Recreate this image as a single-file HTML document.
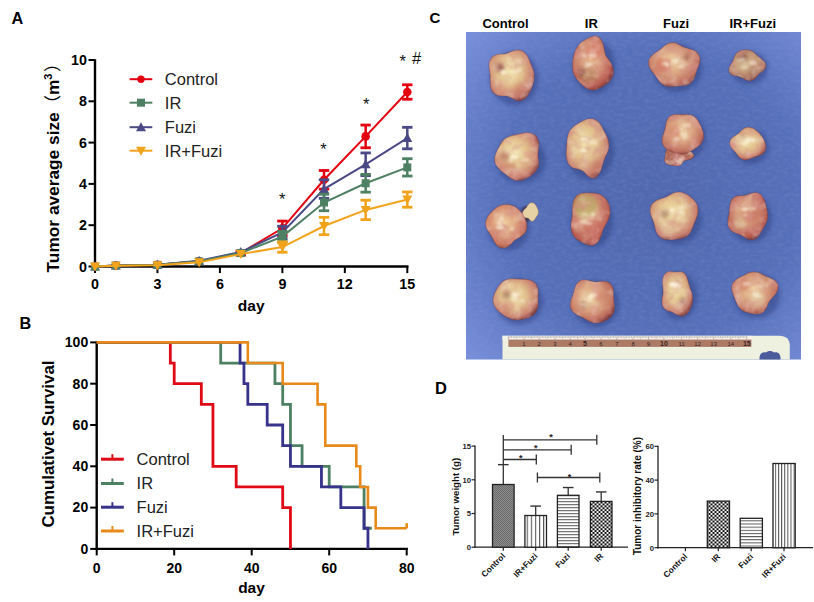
<!DOCTYPE html>
<html><head><meta charset="utf-8"><title>Figure</title>
<style>html,body{margin:0;padding:0;background:#fff;} svg{display:block;}</style></head>
<body><svg width="814" height="602" viewBox="0 0 814 602" font-family="'Liberation Sans','Noto Sans CJK SC',Arial,sans-serif">
<rect width="814" height="602" fill="#fff"/>
<defs>
<radialGradient id="tg0" cx="0.45" cy="0.42" r="0.62"><stop offset="0" stop-color="#f1e4ae"/><stop offset="0.45" stop-color="#e2c08c"/><stop offset="0.82" stop-color="#c98270"/><stop offset="1" stop-color="#803e40"/></radialGradient>
<radialGradient id="tg1" cx="0.45" cy="0.42" r="0.62"><stop offset="0" stop-color="#e8c896"/><stop offset="0.45" stop-color="#d49478"/><stop offset="0.82" stop-color="#b85c50"/><stop offset="1" stop-color="#703438"/></radialGradient>
<radialGradient id="tg2" cx="0.45" cy="0.42" r="0.62"><stop offset="0" stop-color="#eed6a4"/><stop offset="0.45" stop-color="#dba682"/><stop offset="0.82" stop-color="#c0705e"/><stop offset="1" stop-color="#7c3a3c"/></radialGradient>
<radialGradient id="tg3" cx="0.45" cy="0.42" r="0.62"><stop offset="0" stop-color="#d9c49a"/><stop offset="0.45" stop-color="#c9a27e"/><stop offset="0.82" stop-color="#a8705e"/><stop offset="1" stop-color="#6e3a3e"/></radialGradient>
<radialGradient id="tg4" cx="0.45" cy="0.42" r="0.62"><stop offset="0" stop-color="#f1e4ae"/><stop offset="0.45" stop-color="#e2c08c"/><stop offset="0.82" stop-color="#c98270"/><stop offset="1" stop-color="#803e40"/></radialGradient>
<radialGradient id="tg5" cx="0.45" cy="0.42" r="0.62"><stop offset="0" stop-color="#f1e4ae"/><stop offset="0.45" stop-color="#e2c08c"/><stop offset="0.82" stop-color="#c98270"/><stop offset="1" stop-color="#803e40"/></radialGradient>
<radialGradient id="tg6" cx="0.45" cy="0.42" r="0.62"><stop offset="0" stop-color="#eed6a4"/><stop offset="0.45" stop-color="#dba682"/><stop offset="0.82" stop-color="#c0705e"/><stop offset="1" stop-color="#7c3a3c"/></radialGradient>
<radialGradient id="tg7" cx="0.45" cy="0.42" r="0.62"><stop offset="0" stop-color="#f1e4ae"/><stop offset="0.45" stop-color="#e2c08c"/><stop offset="0.82" stop-color="#c98270"/><stop offset="1" stop-color="#803e40"/></radialGradient>
<radialGradient id="tg8" cx="0.45" cy="0.42" r="0.62"><stop offset="0" stop-color="#efd0a0"/><stop offset="0.45" stop-color="#dea07c"/><stop offset="0.82" stop-color="#c7735c"/><stop offset="1" stop-color="#7e3a38"/></radialGradient>
<radialGradient id="tg9" cx="0.45" cy="0.42" r="0.62"><stop offset="0" stop-color="#e8c896"/><stop offset="0.45" stop-color="#d49478"/><stop offset="0.82" stop-color="#b85c50"/><stop offset="1" stop-color="#703438"/></radialGradient>
<radialGradient id="tg10" cx="0.45" cy="0.42" r="0.62"><stop offset="0" stop-color="#f1e4ae"/><stop offset="0.45" stop-color="#e2c08c"/><stop offset="0.82" stop-color="#c98270"/><stop offset="1" stop-color="#803e40"/></radialGradient>
<radialGradient id="tg11" cx="0.45" cy="0.42" r="0.62"><stop offset="0" stop-color="#e8c896"/><stop offset="0.45" stop-color="#d49478"/><stop offset="0.82" stop-color="#b85c50"/><stop offset="1" stop-color="#703438"/></radialGradient>
<radialGradient id="tg12" cx="0.45" cy="0.42" r="0.62"><stop offset="0" stop-color="#f1e4ae"/><stop offset="0.45" stop-color="#e2c08c"/><stop offset="0.82" stop-color="#c98270"/><stop offset="1" stop-color="#803e40"/></radialGradient>
<radialGradient id="tg13" cx="0.45" cy="0.42" r="0.62"><stop offset="0" stop-color="#eed6a4"/><stop offset="0.45" stop-color="#dba682"/><stop offset="0.82" stop-color="#c0705e"/><stop offset="1" stop-color="#7c3a3c"/></radialGradient>
<radialGradient id="tg14" cx="0.45" cy="0.42" r="0.62"><stop offset="0" stop-color="#f1e4ae"/><stop offset="0.45" stop-color="#e2c08c"/><stop offset="0.82" stop-color="#c98270"/><stop offset="1" stop-color="#803e40"/></radialGradient>
<radialGradient id="tg15" cx="0.45" cy="0.42" r="0.62"><stop offset="0" stop-color="#eed6a4"/><stop offset="0.45" stop-color="#dba682"/><stop offset="0.82" stop-color="#c0705e"/><stop offset="1" stop-color="#7c3a3c"/></radialGradient>
<radialGradient id="bluebg" cx="0.55" cy="0.5" r="0.75">
 <stop offset="0" stop-color="#5068ae"/>
 <stop offset="0.6" stop-color="#5670ba"/>
 <stop offset="1" stop-color="#7a90dc"/>
</radialGradient>
<radialGradient id="t1" cx="0.45" cy="0.4" r="0.6">
 <stop offset="0" stop-color="#e8d8a8"/>
 <stop offset="0.5" stop-color="#ddb98f"/>
 <stop offset="0.85" stop-color="#c98a78"/>
 <stop offset="1" stop-color="#9a5a5a"/>
</radialGradient>
<radialGradient id="t2" cx="0.45" cy="0.4" r="0.6">
 <stop offset="0" stop-color="#e2c79a"/>
 <stop offset="0.5" stop-color="#d8a684"/>
 <stop offset="0.85" stop-color="#c27a6c"/>
 <stop offset="1" stop-color="#8e4c50"/>
</radialGradient>
<radialGradient id="t3" cx="0.45" cy="0.4" r="0.6">
 <stop offset="0" stop-color="#dcc194"/>
 <stop offset="0.6" stop-color="#c99a7a"/>
 <stop offset="1" stop-color="#8a4e4e"/>
</radialGradient>
<filter id="blur05" x="-50%" y="-50%" width="200%" height="200%"><feGaussianBlur stdDeviation="0.5"/></filter>
<filter id="mottle1" x="0" y="0" width="1" height="1"><feTurbulence type="fractalNoise" baseFrequency="0.1" numOctaves="3" seed="3"/><feColorMatrix type="matrix" values="0 0 0 0 0.70  0 0 0 0 0.28  0 0 0 0 0.27  2.4 0 0 0 -1.1"/><feComposite in2="SourceAlpha" operator="in"/></filter>
<filter id="mottle2" x="0" y="0" width="1" height="1"><feTurbulence type="fractalNoise" baseFrequency="0.1" numOctaves="3" seed="11"/><feColorMatrix type="matrix" values="0 0 0 0 0.70  0 0 0 0 0.28  0 0 0 0 0.27  2.4 0 0 0 -1.1"/><feComposite in2="SourceAlpha" operator="in"/></filter>
<filter id="mottle3" x="0" y="0" width="1" height="1"><feTurbulence type="fractalNoise" baseFrequency="0.11" numOctaves="3" seed="21"/><feColorMatrix type="matrix" values="0 0 0 0 0.66  0 0 0 0 0.28  0 0 0 0 0.28  2.4 0 0 0 -1.05"/><feComposite in2="SourceAlpha" operator="in"/></filter>
<filter id="cream1" x="0" y="0" width="1" height="1"><feTurbulence type="fractalNoise" baseFrequency="0.09" numOctaves="3" seed="41"/><feColorMatrix type="matrix" values="0 0 0 0 0.96  0 0 0 0 0.93  0 0 0 0 0.78  0 2.6 0 0 -1.2"/><feComposite in2="SourceAlpha" operator="in"/></filter>
<filter id="cloth" x="0" y="0" width="1" height="1"><feTurbulence type="fractalNoise" baseFrequency="0.18 0.3" numOctaves="2" seed="5"/><feColorMatrix type="matrix" values="0 0 0 0 0.26  0 0 0 0 0.34  0 0 0 0 0.66  1.8 0 0 0 -0.7"/></filter>
<filter id="blur1" x="-50%" y="-50%" width="200%" height="200%"><feGaussianBlur stdDeviation="1"/></filter>
<filter id="blur2" x="-50%" y="-50%" width="200%" height="200%"><feGaussianBlur stdDeviation="2"/></filter>
<pattern id="vstripe" patternUnits="userSpaceOnUse" x="526.7" width="4.1" height="10"><rect width="4.1" height="10" fill="#fff"/><rect x="0" width="1.1" height="10" fill="#555"/></pattern>
<pattern id="vstripe2" patternUnits="userSpaceOnUse" x="774.9" width="3.12" height="10"><rect width="3.12" height="10" fill="#fff"/><rect x="0" width="1.0" height="10" fill="#555"/></pattern>
<pattern id="hstripe" patternUnits="userSpaceOnUse" y="0.2" width="10" height="3.0"><rect width="10" height="3" fill="#fff"/><rect y="0" width="10" height="1.0" fill="#555"/></pattern>
<pattern id="hstripe2" patternUnits="userSpaceOnUse" y="0.6" width="10" height="3.15"><rect width="10" height="3.15" fill="#fff"/><rect y="0" width="10" height="1.0" fill="#555"/></pattern>
<pattern id="checker" patternUnits="userSpaceOnUse" x="0.5" y="0" width="4" height="3.8"><rect width="4" height="3.8" fill="#f4f4f4"/><rect width="2" height="1.9" fill="#111"/><rect x="2" y="1.9" width="2" height="1.9" fill="#111"/></pattern>
<pattern id="xhatch" patternUnits="userSpaceOnUse" width="2" height="2"><rect width="2" height="2" fill="#8c8c8c"/><rect width="1" height="1" fill="#6c6c6c"/><rect x="1" y="1" width="1" height="1" fill="#6c6c6c"/></pattern>
</defs>
<text x="11.6" y="23.8" font-size="16.3" font-weight="bold" text-anchor="start" fill="#000" >A</text>
<text x="19.6" y="328.9" font-size="16.3" font-weight="bold" text-anchor="start" fill="#000" >B</text>
<text x="429.5" y="22.6" font-size="15" font-weight="bold" text-anchor="start" fill="#000" >C</text>
<text x="435.0" y="394.0" font-size="16.5" font-weight="bold" text-anchor="start" fill="#000" >D</text>
<line x1="95.00" y1="59.20" x2="95.00" y2="267.70" stroke="#000" stroke-width="2.4" />
<line x1="93.80" y1="266.50" x2="408.50" y2="266.50" stroke="#000" stroke-width="2.4" />
<line x1="88.50" y1="266.50" x2="95.00" y2="266.50" stroke="#000" stroke-width="2" />
<text x="87.0" y="271.5" font-size="14.3" font-weight="bold" text-anchor="end" fill="#000" >0</text>
<line x1="88.50" y1="225.20" x2="95.00" y2="225.20" stroke="#000" stroke-width="2" />
<text x="87.0" y="230.2" font-size="14.3" font-weight="bold" text-anchor="end" fill="#000" >2</text>
<line x1="88.50" y1="183.90" x2="95.00" y2="183.90" stroke="#000" stroke-width="2" />
<text x="87.0" y="188.9" font-size="14.3" font-weight="bold" text-anchor="end" fill="#000" >4</text>
<line x1="88.50" y1="142.60" x2="95.00" y2="142.60" stroke="#000" stroke-width="2" />
<text x="87.0" y="147.6" font-size="14.3" font-weight="bold" text-anchor="end" fill="#000" >6</text>
<line x1="88.50" y1="101.30" x2="95.00" y2="101.30" stroke="#000" stroke-width="2" />
<text x="87.0" y="106.3" font-size="14.3" font-weight="bold" text-anchor="end" fill="#000" >8</text>
<line x1="88.50" y1="60.00" x2="95.00" y2="60.00" stroke="#000" stroke-width="2" />
<text x="87.0" y="65.0" font-size="14.3" font-weight="bold" text-anchor="end" fill="#000" >10</text>
<line x1="95.00" y1="266.50" x2="95.00" y2="273.10" stroke="#000" stroke-width="2" />
<text x="95.0" y="289.2" font-size="14.3" font-weight="bold" text-anchor="middle" fill="#000" >0</text>
<line x1="157.46" y1="266.50" x2="157.46" y2="273.10" stroke="#000" stroke-width="2" />
<text x="157.5" y="289.2" font-size="14.3" font-weight="bold" text-anchor="middle" fill="#000" >3</text>
<line x1="219.92" y1="266.50" x2="219.92" y2="273.10" stroke="#000" stroke-width="2" />
<text x="219.9" y="289.2" font-size="14.3" font-weight="bold" text-anchor="middle" fill="#000" >6</text>
<line x1="282.38" y1="266.50" x2="282.38" y2="273.10" stroke="#000" stroke-width="2" />
<text x="282.4" y="289.2" font-size="14.3" font-weight="bold" text-anchor="middle" fill="#000" >9</text>
<line x1="344.84" y1="266.50" x2="344.84" y2="273.10" stroke="#000" stroke-width="2" />
<text x="344.8" y="289.2" font-size="14.3" font-weight="bold" text-anchor="middle" fill="#000" >12</text>
<line x1="407.30" y1="266.50" x2="407.30" y2="273.10" stroke="#000" stroke-width="2" />
<text x="407.3" y="289.2" font-size="14.3" font-weight="bold" text-anchor="middle" fill="#000" >15</text>
<text x="251.2" y="310.5" font-size="15.5" font-weight="bold" text-anchor="middle" fill="#000" >day</text>
<text transform="translate(58.6,272.4) rotate(-90)" font-size="17.3" font-weight="bold" fill="#000">Tumor average size<tspan font-weight="normal" font-family="'Liberation Sans','Noto Sans CJK SC',sans-serif">（</tspan>m<tspan font-size="11" dy="-7">3</tspan><tspan dy="7" dx="1.5" font-weight="normal" font-family="'Liberation Sans','Noto Sans CJK SC',sans-serif">）</tspan></text>
<polyline points="95.00,266.50 115.82,265.47 157.46,264.85 199.10,261.34 240.74,253.08 282.38,228.30 324.02,179.77 365.66,136.41 407.30,92.01" fill="none" stroke="#e3000f" stroke-width="2"/>
<circle cx="95.00" cy="266.50" r="4.30" fill="#e3000f"/>
<circle cx="115.82" cy="265.47" r="4.30" fill="#e3000f"/>
<circle cx="157.46" cy="264.85" r="4.30" fill="#e3000f"/>
<circle cx="199.10" cy="261.34" r="4.30" fill="#e3000f"/>
<line x1="240.74" y1="251.01" x2="240.74" y2="255.14" stroke="#e3000f" stroke-width="2.5" />
<line x1="235.54" y1="251.01" x2="245.94" y2="251.01" stroke="#e3000f" stroke-width="2.8" />
<line x1="235.54" y1="255.14" x2="245.94" y2="255.14" stroke="#e3000f" stroke-width="2.8" />
<circle cx="240.74" cy="253.08" r="4.30" fill="#e3000f"/>
<line x1="282.38" y1="221.07" x2="282.38" y2="235.53" stroke="#e3000f" stroke-width="2.5" />
<line x1="277.18" y1="221.07" x2="287.58" y2="221.07" stroke="#e3000f" stroke-width="2.8" />
<line x1="277.18" y1="235.53" x2="287.58" y2="235.53" stroke="#e3000f" stroke-width="2.8" />
<circle cx="282.38" cy="228.30" r="4.30" fill="#e3000f"/>
<line x1="324.02" y1="170.48" x2="324.02" y2="189.06" stroke="#e3000f" stroke-width="2.5" />
<line x1="318.82" y1="170.48" x2="329.22" y2="170.48" stroke="#e3000f" stroke-width="2.8" />
<line x1="318.82" y1="189.06" x2="329.22" y2="189.06" stroke="#e3000f" stroke-width="2.8" />
<circle cx="324.02" cy="179.77" r="4.30" fill="#e3000f"/>
<line x1="365.66" y1="125.05" x2="365.66" y2="147.76" stroke="#e3000f" stroke-width="2.5" />
<line x1="360.46" y1="125.05" x2="370.86" y2="125.05" stroke="#e3000f" stroke-width="2.8" />
<line x1="360.46" y1="147.76" x2="370.86" y2="147.76" stroke="#e3000f" stroke-width="2.8" />
<circle cx="365.66" cy="136.41" r="4.30" fill="#e3000f"/>
<line x1="407.30" y1="84.78" x2="407.30" y2="99.24" stroke="#e3000f" stroke-width="2.5" />
<line x1="402.10" y1="84.78" x2="412.50" y2="84.78" stroke="#e3000f" stroke-width="2.8" />
<line x1="402.10" y1="99.24" x2="412.50" y2="99.24" stroke="#e3000f" stroke-width="2.8" />
<circle cx="407.30" cy="92.01" r="4.30" fill="#e3000f"/>
<polyline points="95.00,266.50 115.82,265.47 157.46,264.85 199.10,260.72 240.74,252.05 282.38,232.43 324.02,189.06 365.66,164.28 407.30,138.06" fill="none" stroke="#4b4a86" stroke-width="2"/>
<polygon points="95.00,261.50 100.00,270.50 90.00,270.50" fill="#4b4a86"/>
<polygon points="115.82,260.47 120.82,269.47 110.82,269.47" fill="#4b4a86"/>
<polygon points="157.46,259.85 162.46,268.85 152.46,268.85" fill="#4b4a86"/>
<polygon points="199.10,255.72 204.10,264.72 194.10,264.72" fill="#4b4a86"/>
<polygon points="240.74,247.05 245.74,256.05 235.74,256.05" fill="#4b4a86"/>
<line x1="282.38" y1="226.23" x2="282.38" y2="238.62" stroke="#4b4a86" stroke-width="2.5" />
<line x1="277.18" y1="226.23" x2="287.58" y2="226.23" stroke="#4b4a86" stroke-width="2.8" />
<line x1="277.18" y1="238.62" x2="287.58" y2="238.62" stroke="#4b4a86" stroke-width="2.8" />
<polygon points="282.38,227.43 287.38,236.43 277.38,236.43" fill="#4b4a86"/>
<line x1="324.02" y1="179.77" x2="324.02" y2="198.36" stroke="#4b4a86" stroke-width="2.5" />
<line x1="318.82" y1="179.77" x2="329.22" y2="179.77" stroke="#4b4a86" stroke-width="2.8" />
<line x1="318.82" y1="198.36" x2="329.22" y2="198.36" stroke="#4b4a86" stroke-width="2.8" />
<polygon points="324.02,184.06 329.02,193.06 319.02,193.06" fill="#4b4a86"/>
<line x1="365.66" y1="152.93" x2="365.66" y2="175.64" stroke="#4b4a86" stroke-width="2.5" />
<line x1="360.46" y1="152.93" x2="370.86" y2="152.93" stroke="#4b4a86" stroke-width="2.8" />
<line x1="360.46" y1="175.64" x2="370.86" y2="175.64" stroke="#4b4a86" stroke-width="2.8" />
<polygon points="365.66,159.28 370.66,168.28 360.66,168.28" fill="#4b4a86"/>
<line x1="407.30" y1="127.32" x2="407.30" y2="148.80" stroke="#4b4a86" stroke-width="2.5" />
<line x1="402.10" y1="127.32" x2="412.50" y2="127.32" stroke="#4b4a86" stroke-width="2.8" />
<line x1="402.10" y1="148.80" x2="412.50" y2="148.80" stroke="#4b4a86" stroke-width="2.8" />
<polygon points="407.30,133.06 412.30,142.06 402.30,142.06" fill="#4b4a86"/>
<polyline points="95.00,266.50 115.82,265.47 157.46,264.85 199.10,261.34 240.74,253.08 282.38,236.56 324.02,202.49 365.66,183.28 407.30,167.38" fill="none" stroke="#4e8163" stroke-width="2"/>
<rect x="91.00" y="262.50" width="8.00" height="8.00" fill="#4e8163"/>
<rect x="111.82" y="261.47" width="8.00" height="8.00" fill="#4e8163"/>
<rect x="153.46" y="260.85" width="8.00" height="8.00" fill="#4e8163"/>
<rect x="195.10" y="257.34" width="8.00" height="8.00" fill="#4e8163"/>
<rect x="236.74" y="249.08" width="8.00" height="8.00" fill="#4e8163"/>
<line x1="282.38" y1="231.40" x2="282.38" y2="241.72" stroke="#4e8163" stroke-width="2.5" />
<line x1="277.18" y1="231.40" x2="287.58" y2="231.40" stroke="#4e8163" stroke-width="2.8" />
<line x1="277.18" y1="241.72" x2="287.58" y2="241.72" stroke="#4e8163" stroke-width="2.8" />
<rect x="278.38" y="232.56" width="8.00" height="8.00" fill="#4e8163"/>
<line x1="324.02" y1="194.23" x2="324.02" y2="210.75" stroke="#4e8163" stroke-width="2.5" />
<line x1="318.82" y1="194.23" x2="329.22" y2="194.23" stroke="#4e8163" stroke-width="2.8" />
<line x1="318.82" y1="210.75" x2="329.22" y2="210.75" stroke="#4e8163" stroke-width="2.8" />
<rect x="320.02" y="198.49" width="8.00" height="8.00" fill="#4e8163"/>
<line x1="365.66" y1="174.40" x2="365.66" y2="192.16" stroke="#4e8163" stroke-width="2.5" />
<line x1="360.46" y1="174.40" x2="370.86" y2="174.40" stroke="#4e8163" stroke-width="2.8" />
<line x1="360.46" y1="192.16" x2="370.86" y2="192.16" stroke="#4e8163" stroke-width="2.8" />
<rect x="361.66" y="179.28" width="8.00" height="8.00" fill="#4e8163"/>
<line x1="407.30" y1="158.71" x2="407.30" y2="176.05" stroke="#4e8163" stroke-width="2.5" />
<line x1="402.10" y1="158.71" x2="412.50" y2="158.71" stroke="#4e8163" stroke-width="2.8" />
<line x1="402.10" y1="176.05" x2="412.50" y2="176.05" stroke="#4e8163" stroke-width="2.8" />
<rect x="403.30" y="163.38" width="8.00" height="8.00" fill="#4e8163"/>
<polyline points="95.00,266.50 115.82,265.67 157.46,265.26 199.10,262.37 240.74,254.11 282.38,247.09 324.02,226.03 365.66,209.92 407.30,199.59" fill="none" stroke="#f2a31c" stroke-width="2"/>
<polygon points="95.00,271.50 100.00,262.50 90.00,262.50" fill="#f2a31c"/>
<polygon points="115.82,270.67 120.82,261.67 110.82,261.67" fill="#f2a31c"/>
<polygon points="157.46,270.26 162.46,261.26 152.46,261.26" fill="#f2a31c"/>
<polygon points="199.10,267.37 204.10,258.37 194.10,258.37" fill="#f2a31c"/>
<polygon points="240.74,259.11 245.74,250.11 235.74,250.11" fill="#f2a31c"/>
<line x1="282.38" y1="241.93" x2="282.38" y2="252.25" stroke="#f2a31c" stroke-width="2.5" />
<line x1="277.18" y1="241.93" x2="287.58" y2="241.93" stroke="#f2a31c" stroke-width="2.8" />
<line x1="277.18" y1="252.25" x2="287.58" y2="252.25" stroke="#f2a31c" stroke-width="2.8" />
<polygon points="282.38,252.09 287.38,243.09 277.38,243.09" fill="#f2a31c"/>
<line x1="324.02" y1="217.35" x2="324.02" y2="234.70" stroke="#f2a31c" stroke-width="2.5" />
<line x1="318.82" y1="217.35" x2="329.22" y2="217.35" stroke="#f2a31c" stroke-width="2.8" />
<line x1="318.82" y1="234.70" x2="329.22" y2="234.70" stroke="#f2a31c" stroke-width="2.8" />
<polygon points="324.02,231.03 329.02,222.03 319.02,222.03" fill="#f2a31c"/>
<line x1="365.66" y1="200.21" x2="365.66" y2="219.62" stroke="#f2a31c" stroke-width="2.5" />
<line x1="360.46" y1="200.21" x2="370.86" y2="200.21" stroke="#f2a31c" stroke-width="2.8" />
<line x1="360.46" y1="219.62" x2="370.86" y2="219.62" stroke="#f2a31c" stroke-width="2.8" />
<polygon points="365.66,214.92 370.66,205.92 360.66,205.92" fill="#f2a31c"/>
<line x1="407.30" y1="191.95" x2="407.30" y2="207.23" stroke="#f2a31c" stroke-width="2.5" />
<line x1="402.10" y1="191.95" x2="412.50" y2="191.95" stroke="#f2a31c" stroke-width="2.8" />
<line x1="402.10" y1="207.23" x2="412.50" y2="207.23" stroke="#f2a31c" stroke-width="2.8" />
<polygon points="407.30,204.59 412.30,195.59 402.30,195.59" fill="#f2a31c"/>
<line x1="129.60" y1="79.20" x2="152.30" y2="79.20" stroke="#e3000f" stroke-width="2" />
<circle cx="141.00" cy="79.20" r="3.7" fill="#e3000f"/>
<text x="164.8" y="85.0" font-size="16.5" font-weight="normal" text-anchor="start" fill="#222" >Control</text>
<line x1="129.60" y1="102.70" x2="152.30" y2="102.70" stroke="#4e8163" stroke-width="2" />
<rect x="137.00" y="98.70" width="8.00" height="8.00" fill="#4e8163"/>
<text x="164.8" y="108.5" font-size="16.5" font-weight="normal" text-anchor="start" fill="#222" >IR</text>
<line x1="129.60" y1="127.20" x2="152.30" y2="127.20" stroke="#4b4a86" stroke-width="2" />
<polygon points="141.00,122.20 146.00,131.20 136.00,131.20" fill="#4b4a86"/>
<text x="164.8" y="133.0" font-size="16.5" font-weight="normal" text-anchor="start" fill="#222" >Fuzi</text>
<line x1="129.60" y1="150.70" x2="152.30" y2="150.70" stroke="#f2a31c" stroke-width="2" />
<polygon points="141.00,155.70 146.00,146.70 136.00,146.70" fill="#f2a31c"/>
<text x="164.8" y="156.5" font-size="16.5" font-weight="normal" text-anchor="start" fill="#222" >IR+Fuzi</text>
<text x="282.3" y="204.8" font-size="16.5" font-weight="normal" text-anchor="middle" fill="#111" >*</text>
<text x="323.5" y="154.5" font-size="16.5" font-weight="normal" text-anchor="middle" fill="#111" >*</text>
<text x="366.2" y="109.5" font-size="16.5" font-weight="normal" text-anchor="middle" fill="#111" >*</text>
<text x="402.8" y="67.1" font-size="16.5" font-weight="normal" text-anchor="middle" fill="#111" >*</text>
<text x="416.7" y="63.6" font-size="16.5" font-weight="normal" text-anchor="middle" fill="#111" >#</text>
<line x1="96.70" y1="341.60" x2="96.70" y2="550.10" stroke="#000" stroke-width="2.4" />
<line x1="95.50" y1="548.90" x2="407.90" y2="548.90" stroke="#000" stroke-width="2.4" />
<line x1="90.20" y1="548.90" x2="96.70" y2="548.90" stroke="#000" stroke-width="2" />
<text x="88.2" y="553.7" font-size="14" font-weight="bold" text-anchor="end" fill="#000" >0</text>
<line x1="90.20" y1="507.60" x2="96.70" y2="507.60" stroke="#000" stroke-width="2" />
<text x="88.2" y="512.4" font-size="14" font-weight="bold" text-anchor="end" fill="#000" >20</text>
<line x1="90.20" y1="466.30" x2="96.70" y2="466.30" stroke="#000" stroke-width="2" />
<text x="88.2" y="471.1" font-size="14" font-weight="bold" text-anchor="end" fill="#000" >40</text>
<line x1="90.20" y1="425.00" x2="96.70" y2="425.00" stroke="#000" stroke-width="2" />
<text x="88.2" y="429.8" font-size="14" font-weight="bold" text-anchor="end" fill="#000" >60</text>
<line x1="90.20" y1="383.70" x2="96.70" y2="383.70" stroke="#000" stroke-width="2" />
<text x="88.2" y="388.5" font-size="14" font-weight="bold" text-anchor="end" fill="#000" >80</text>
<line x1="90.20" y1="342.40" x2="96.70" y2="342.40" stroke="#000" stroke-width="2" />
<text x="88.2" y="347.2" font-size="14" font-weight="bold" text-anchor="end" fill="#000" >100</text>
<line x1="96.70" y1="548.90" x2="96.70" y2="555.40" stroke="#000" stroke-width="2" />
<text x="96.7" y="572.5" font-size="14" font-weight="bold" text-anchor="middle" fill="#000" >0</text>
<line x1="174.20" y1="548.90" x2="174.20" y2="555.40" stroke="#000" stroke-width="2" />
<text x="174.2" y="572.5" font-size="14" font-weight="bold" text-anchor="middle" fill="#000" >20</text>
<line x1="251.70" y1="548.90" x2="251.70" y2="555.40" stroke="#000" stroke-width="2" />
<text x="251.7" y="572.5" font-size="14" font-weight="bold" text-anchor="middle" fill="#000" >40</text>
<line x1="329.20" y1="548.90" x2="329.20" y2="555.40" stroke="#000" stroke-width="2" />
<text x="329.2" y="572.5" font-size="14" font-weight="bold" text-anchor="middle" fill="#000" >60</text>
<line x1="406.70" y1="548.90" x2="406.70" y2="555.40" stroke="#000" stroke-width="2" />
<text x="406.7" y="572.5" font-size="14" font-weight="bold" text-anchor="middle" fill="#000" >80</text>
<text x="251.5" y="592.7" font-size="15.5" font-weight="bold" text-anchor="middle" fill="#000" >day</text>
<text transform="translate(53.6,527.6) rotate(-90)" font-size="16.9" font-weight="bold" fill="#000">Cumulativet Survival</text>
<polyline points="96.70,342.40 170.32,342.40 170.32,363.05 174.20,363.05 174.20,383.70 201.32,383.70 201.32,404.35 212.95,404.35 212.95,466.30 236.20,466.30 236.20,486.95 282.70,486.95 282.70,507.60 290.45,507.60 290.45,548.90 290.45,548.90" fill="none" stroke="#e00a16" stroke-width="2.8" stroke-linejoin="miter"/>
<polyline points="96.70,342.40 220.70,342.40 220.70,363.05 274.95,363.05 274.95,383.70 282.70,383.70 282.70,404.35 290.45,404.35 290.45,445.65 302.07,445.65 302.07,466.30 329.20,466.30 329.20,486.95 364.07,486.95 364.07,528.25 371.82,528.25" fill="none" stroke="#4e8163" stroke-width="2.8" stroke-linejoin="miter"/>
<polyline points="96.70,342.40 240.07,342.40 240.07,363.05 243.95,363.05 243.95,383.70 247.82,383.70 247.82,404.35 267.20,404.35 267.20,425.00 282.70,425.00 282.70,445.65 290.45,445.65 290.45,466.30 321.45,466.30 321.45,486.95 340.82,486.95 340.82,507.60 364.07,507.60 364.07,528.25 367.95,528.25 367.95,548.90 367.95,548.90" fill="none" stroke="#37338a" stroke-width="2.8" stroke-linejoin="miter"/>
<polyline points="96.70,342.40 247.82,342.40 247.82,363.05 282.70,363.05 282.70,383.70 317.57,383.70 317.57,404.35 325.32,404.35 325.32,445.65 356.32,445.65 356.32,466.30 360.20,466.30 360.20,486.95 367.95,486.95 367.95,507.60 375.70,507.60 375.70,528.25 406.70,528.25" fill="none" stroke="#e88a1a" stroke-width="2.6" stroke-linejoin="miter"/>
<line x1="406.70" y1="528.25" x2="406.70" y2="523.25" stroke="#e88a1a" stroke-width="2.6" />
<line x1="101.00" y1="459.20" x2="123.80" y2="459.20" stroke="#e00a16" stroke-width="3" />
<line x1="112.40" y1="459.20" x2="112.40" y2="454.20" stroke="#e00a16" stroke-width="2" />
<text x="136.6" y="464.8" font-size="16.5" font-weight="normal" text-anchor="start" fill="#222" >Control</text>
<line x1="101.00" y1="483.50" x2="123.80" y2="483.50" stroke="#4e8163" stroke-width="3" />
<line x1="112.40" y1="483.50" x2="112.40" y2="478.50" stroke="#4e8163" stroke-width="2" />
<text x="136.6" y="489.1" font-size="16.5" font-weight="normal" text-anchor="start" fill="#222" >IR</text>
<line x1="101.00" y1="507.20" x2="123.80" y2="507.20" stroke="#37338a" stroke-width="3" />
<line x1="112.40" y1="507.20" x2="112.40" y2="502.20" stroke="#37338a" stroke-width="2" />
<text x="136.6" y="512.8" font-size="16.5" font-weight="normal" text-anchor="start" fill="#222" >Fuzi</text>
<line x1="101.00" y1="531.00" x2="123.80" y2="531.00" stroke="#e88a1a" stroke-width="3" />
<line x1="112.40" y1="531.00" x2="112.40" y2="526.00" stroke="#e88a1a" stroke-width="2" />
<text x="136.6" y="536.6" font-size="16.5" font-weight="normal" text-anchor="start" fill="#222" >IR+Fuzi</text>
<text x="505.5" y="27.5" font-size="13" font-weight="bold" text-anchor="middle" fill="#000" >Control</text>
<text x="591.3" y="27.5" font-size="13" font-weight="bold" text-anchor="middle" fill="#000" >IR</text>
<text x="676.0" y="27.5" font-size="13" font-weight="bold" text-anchor="middle" fill="#000" >Fuzi</text>
<text x="752.8" y="27.5" font-size="13" font-weight="bold" text-anchor="middle" fill="#000" >IR+Fuzi</text>
<rect x="466" y="32" width="335" height="327.5" fill="url(#bluebg)"/>
<rect x="466" y="32" width="335" height="327.5" fill="#3a4a90" filter="url(#cloth)" opacity="0.22"/>
<ellipse cx="514.2" cy="78.5" rx="24.5" ry="27.0" fill="#2c3a7a" opacity="0.45" filter="url(#blur2)"/>
<ellipse cx="594.5" cy="66.9" rx="21.2" ry="27.4" fill="#2c3a7a" opacity="0.45" filter="url(#blur2)"/>
<ellipse cx="677.3" cy="68.2" rx="24.9" ry="24.0" fill="#2c3a7a" opacity="0.45" filter="url(#blur2)"/>
<ellipse cx="749.5" cy="68.0" rx="18.5" ry="16.5" fill="#2c3a7a" opacity="0.45" filter="url(#blur2)"/>
<ellipse cx="520.9" cy="159.4" rx="25.0" ry="24.2" fill="#2c3a7a" opacity="0.45" filter="url(#blur2)"/>
<ellipse cx="589.9" cy="151.0" rx="24.1" ry="29.0" fill="#2c3a7a" opacity="0.45" filter="url(#blur2)"/>
<ellipse cx="685.0" cy="137.0" rx="21.1" ry="22.5" fill="#2c3a7a" opacity="0.45" filter="url(#blur2)"/>
<ellipse cx="750.8" cy="147.0" rx="18.1" ry="17.2" fill="#2c3a7a" opacity="0.45" filter="url(#blur2)"/>
<ellipse cx="508.5" cy="228.0" rx="21.0" ry="22.1" fill="#2c3a7a" opacity="0.45" filter="url(#blur2)"/>
<ellipse cx="592.0" cy="220.5" rx="21.0" ry="27.5" fill="#2c3a7a" opacity="0.45" filter="url(#blur2)"/>
<ellipse cx="676.9" cy="219.0" rx="24.5" ry="25.5" fill="#2c3a7a" opacity="0.45" filter="url(#blur2)"/>
<ellipse cx="750.5" cy="218.5" rx="21.5" ry="24.5" fill="#2c3a7a" opacity="0.45" filter="url(#blur2)"/>
<ellipse cx="519.3" cy="301.8" rx="23.9" ry="23.1" fill="#2c3a7a" opacity="0.45" filter="url(#blur2)"/>
<ellipse cx="595.9" cy="303.9" rx="23.5" ry="23.5" fill="#2c3a7a" opacity="0.45" filter="url(#blur2)"/>
<ellipse cx="679.3" cy="296.2" rx="17.9" ry="23.9" fill="#2c3a7a" opacity="0.45" filter="url(#blur2)"/>
<ellipse cx="756.5" cy="295.8" rx="23.5" ry="22.8" fill="#2c3a7a" opacity="0.45" filter="url(#blur2)"/>
<path d="M693.9,155.5 C693.9,156.4 693.1,157.6 692.1,158.3 C691.2,159.0 689.4,159.5 688.2,159.8 C687.0,160.2 685.7,160.2 684.9,160.4 C684.1,160.7 683.7,161.0 683.3,161.6 C682.8,162.1 682.6,162.9 682.1,163.6 C681.6,164.2 680.9,164.9 680.2,165.3 C679.4,165.7 678.4,165.8 677.5,165.9 C676.6,165.9 675.7,165.6 674.8,165.5 C673.9,165.4 673.0,165.3 672.0,165.2 C671.0,165.0 669.8,165.0 668.8,164.7 C667.8,164.4 666.7,163.9 666.0,163.2 C665.3,162.6 664.8,161.6 664.6,160.7 C664.5,159.8 664.7,158.8 664.9,157.9 C665.0,157.1 665.3,156.3 665.4,155.5 C665.5,154.7 665.5,154.0 665.6,153.2 C665.7,152.4 665.7,151.6 666.0,150.9 C666.4,150.2 667.1,149.5 667.9,149.0 C668.6,148.6 669.7,148.4 670.6,148.2 C671.5,148.0 672.3,148.1 673.1,147.8 C673.8,147.5 674.3,147.1 675.1,146.6 C675.8,146.1 676.6,145.2 677.5,144.7 C678.4,144.3 679.7,143.9 680.6,144.0 C681.6,144.0 682.7,144.6 683.4,145.3 C684.1,145.9 684.4,147.0 684.8,147.8 C685.3,148.5 685.4,149.2 686.1,149.8 C686.7,150.3 687.7,150.5 688.7,151.0 C689.7,151.5 691.3,151.9 692.1,152.7 C693.0,153.4 693.9,154.6 693.9,155.5Z" fill="#b06858" stroke="#6a3030" stroke-width="1" stroke-opacity="0.5"/>
<path d="M693.9,155.5 C693.9,156.4 693.1,157.6 692.1,158.3 C691.2,159.0 689.4,159.5 688.2,159.8 C687.0,160.2 685.7,160.2 684.9,160.4 C684.1,160.7 683.7,161.0 683.3,161.6 C682.8,162.1 682.6,162.9 682.1,163.6 C681.6,164.2 680.9,164.9 680.2,165.3 C679.4,165.7 678.4,165.8 677.5,165.9 C676.6,165.9 675.7,165.6 674.8,165.5 C673.9,165.4 673.0,165.3 672.0,165.2 C671.0,165.0 669.8,165.0 668.8,164.7 C667.8,164.4 666.7,163.9 666.0,163.2 C665.3,162.6 664.8,161.6 664.6,160.7 C664.5,159.8 664.7,158.8 664.9,157.9 C665.0,157.1 665.3,156.3 665.4,155.5 C665.5,154.7 665.5,154.0 665.6,153.2 C665.7,152.4 665.7,151.6 666.0,150.9 C666.4,150.2 667.1,149.5 667.9,149.0 C668.6,148.6 669.7,148.4 670.6,148.2 C671.5,148.0 672.3,148.1 673.1,147.8 C673.8,147.5 674.3,147.1 675.1,146.6 C675.8,146.1 676.6,145.2 677.5,144.7 C678.4,144.3 679.7,143.9 680.6,144.0 C681.6,144.0 682.7,144.6 683.4,145.3 C684.1,145.9 684.4,147.0 684.8,147.8 C685.3,148.5 685.4,149.2 686.1,149.8 C686.7,150.3 687.7,150.5 688.7,151.0 C689.7,151.5 691.3,151.9 692.1,152.7 C693.0,153.4 693.9,154.6 693.9,155.5Z" fill="#8a3a3c" filter="url(#mottle3)" opacity="0.9"/>
<path d="M693.9,155.5 C693.9,156.4 693.1,157.6 692.1,158.3 C691.2,159.0 689.4,159.5 688.2,159.8 C687.0,160.2 685.7,160.2 684.9,160.4 C684.1,160.7 683.7,161.0 683.3,161.6 C682.8,162.1 682.6,162.9 682.1,163.6 C681.6,164.2 680.9,164.9 680.2,165.3 C679.4,165.7 678.4,165.8 677.5,165.9 C676.6,165.9 675.7,165.6 674.8,165.5 C673.9,165.4 673.0,165.3 672.0,165.2 C671.0,165.0 669.8,165.0 668.8,164.7 C667.8,164.4 666.7,163.9 666.0,163.2 C665.3,162.6 664.8,161.6 664.6,160.7 C664.5,159.8 664.7,158.8 664.9,157.9 C665.0,157.1 665.3,156.3 665.4,155.5 C665.5,154.7 665.5,154.0 665.6,153.2 C665.7,152.4 665.7,151.6 666.0,150.9 C666.4,150.2 667.1,149.5 667.9,149.0 C668.6,148.6 669.7,148.4 670.6,148.2 C671.5,148.0 672.3,148.1 673.1,147.8 C673.8,147.5 674.3,147.1 675.1,146.6 C675.8,146.1 676.6,145.2 677.5,144.7 C678.4,144.3 679.7,143.9 680.6,144.0 C681.6,144.0 682.7,144.6 683.4,145.3 C684.1,145.9 684.4,147.0 684.8,147.8 C685.3,148.5 685.4,149.2 686.1,149.8 C686.7,150.3 687.7,150.5 688.7,151.0 C689.7,151.5 691.3,151.9 692.1,152.7 C693.0,153.4 693.9,154.6 693.9,155.5Z" fill="#fff" filter="url(#cream1)" opacity="0.75"/>
<ellipse cx="526" cy="214" rx="5" ry="8" fill="#3a2a40" opacity="0.8" filter="url(#blur1)"/>
<path d="M538.4,212.0 C538.4,212.7 538.3,213.4 538.1,214.1 C537.9,214.7 537.5,215.3 537.2,215.8 C536.8,216.3 536.4,216.8 536.1,217.2 C535.8,217.7 535.5,218.2 535.2,218.7 C534.8,219.2 534.5,219.9 534.1,220.3 C533.7,220.7 533.2,221.2 532.7,221.3 C532.1,221.4 531.5,221.3 531.0,221.1 C530.5,220.8 530.0,220.2 529.6,219.7 C529.2,219.3 529.0,218.8 528.6,218.5 C528.2,218.2 527.8,218.1 527.3,218.0 C526.8,217.9 526.0,218.0 525.4,217.8 C524.7,217.6 523.9,217.3 523.3,216.7 C522.8,216.2 522.3,215.4 522.2,214.6 C522.1,213.8 522.3,212.8 522.6,212.0 C522.9,211.2 523.5,210.5 524.0,209.9 C524.4,209.4 525.0,209.0 525.4,208.6 C525.9,208.1 526.2,207.8 526.5,207.4 C526.8,207.0 527.0,206.5 527.3,206.1 C527.6,205.6 527.9,205.1 528.3,204.7 C528.6,204.2 529.0,203.8 529.5,203.5 C529.9,203.2 530.5,202.9 531.0,202.8 C531.5,202.7 532.1,202.6 532.6,202.7 C533.2,202.8 533.7,203.1 534.2,203.4 C534.7,203.8 535.1,204.3 535.5,204.7 C535.9,205.2 536.2,205.8 536.5,206.4 C536.8,206.9 537.1,207.5 537.4,208.1 C537.6,208.7 537.9,209.3 538.1,209.9 C538.3,210.6 538.4,211.3 538.4,212.0Z" fill="#e6d2a4" stroke="#9a6a5a" stroke-width="0.8" stroke-opacity="0.6"/>
<clipPath id="tc0"><path d="M534.2,75.5 C534.3,77.4 534.1,79.4 533.8,81.3 C533.4,83.2 532.7,85.1 532.0,87.0 C531.3,88.8 530.5,90.7 529.5,92.5 C528.5,94.2 527.5,96.1 526.1,97.4 C524.8,98.7 523.2,100.0 521.5,100.5 C519.9,101.0 518.0,100.8 516.3,100.4 C514.7,100.0 513.1,98.8 511.7,98.1 C510.3,97.4 509.2,96.5 507.9,96.2 C506.5,95.8 505.2,96.0 503.7,95.9 C502.1,95.8 500.2,96.1 498.5,95.6 C496.8,95.1 494.8,94.2 493.5,92.8 C492.2,91.5 491.3,89.3 490.8,87.4 C490.2,85.4 490.4,83.1 490.3,81.2 C490.2,79.2 490.4,77.4 490.2,75.5 C490.1,73.6 489.6,71.8 489.4,69.8 C489.2,67.8 488.8,65.5 489.1,63.5 C489.4,61.5 490.2,59.4 491.4,57.9 C492.6,56.5 494.6,55.5 496.3,54.8 C498.1,54.2 500.2,54.3 502.0,54.1 C503.8,53.8 505.3,53.8 506.9,53.4 C508.5,52.9 510.0,52.1 511.7,51.5 C513.4,51.0 515.4,50.1 517.2,50.1 C519.0,50.0 521.1,50.4 522.7,51.2 C524.3,52.1 525.7,53.7 526.8,55.2 C527.9,56.7 528.6,58.6 529.3,60.3 C530.1,61.9 530.6,63.5 531.3,65.1 C531.9,66.8 532.7,68.3 533.2,70.0 C533.7,71.7 534.2,73.6 534.2,75.5Z"/></clipPath>
<path d="M534.2,75.5 C534.3,77.4 534.1,79.4 533.8,81.3 C533.4,83.2 532.7,85.1 532.0,87.0 C531.3,88.8 530.5,90.7 529.5,92.5 C528.5,94.2 527.5,96.1 526.1,97.4 C524.8,98.7 523.2,100.0 521.5,100.5 C519.9,101.0 518.0,100.8 516.3,100.4 C514.7,100.0 513.1,98.8 511.7,98.1 C510.3,97.4 509.2,96.5 507.9,96.2 C506.5,95.8 505.2,96.0 503.7,95.9 C502.1,95.8 500.2,96.1 498.5,95.6 C496.8,95.1 494.8,94.2 493.5,92.8 C492.2,91.5 491.3,89.3 490.8,87.4 C490.2,85.4 490.4,83.1 490.3,81.2 C490.2,79.2 490.4,77.4 490.2,75.5 C490.1,73.6 489.6,71.8 489.4,69.8 C489.2,67.8 488.8,65.5 489.1,63.5 C489.4,61.5 490.2,59.4 491.4,57.9 C492.6,56.5 494.6,55.5 496.3,54.8 C498.1,54.2 500.2,54.3 502.0,54.1 C503.8,53.8 505.3,53.8 506.9,53.4 C508.5,52.9 510.0,52.1 511.7,51.5 C513.4,51.0 515.4,50.1 517.2,50.1 C519.0,50.0 521.1,50.4 522.7,51.2 C524.3,52.1 525.7,53.7 526.8,55.2 C527.9,56.7 528.6,58.6 529.3,60.3 C530.1,61.9 530.6,63.5 531.3,65.1 C531.9,66.8 532.7,68.3 533.2,70.0 C533.7,71.7 534.2,73.6 534.2,75.5Z" fill="url(#tg0)" stroke="#7a3a3a" stroke-width="1.2" stroke-opacity="0.35"/>
<g clip-path="url(#tc0)">
<circle cx="499.7" cy="67.5" r="4" fill="#7a3038" opacity="0.8" filter="url(#blur2)"/>
<circle cx="519.7" cy="90.5" r="7" fill="#c2685c" opacity="0.35" filter="url(#blur2)"/>
<circle cx="501.7" cy="87.5" r="6" fill="#d98878" opacity="0.4" filter="url(#blur2)"/>
<rect x="484.7" y="46.0" width="54.0" height="59.0" fill="#b8504c" filter="url(#mottle1)" opacity="0.6"/>
<rect x="484.7" y="46.0" width="54.0" height="59.0" fill="#fff" filter="url(#cream1)" opacity="0.3"/>
<ellipse cx="504.0" cy="72.1" rx="3.9" ry="2.1" fill="#fffbe8" opacity="0.45" filter="url(#blur1)"/>
<ellipse cx="514.8" cy="71.8" rx="4.0" ry="1.9" fill="#fffbe8" opacity="0.45" filter="url(#blur1)"/>
<ellipse cx="502.8" cy="72.2" rx="2.1" ry="2.4" fill="#fffbe8" opacity="0.45" filter="url(#blur1)"/>
<ellipse cx="518.8" cy="70.0" rx="2.8" ry="2.2" fill="#fffbe8" opacity="0.45" filter="url(#blur1)"/>
</g>
<clipPath id="tc1"><path d="M611.4,63.9 C612.3,65.8 613.3,68.2 613.4,70.3 C613.6,72.5 613.2,74.9 612.5,76.7 C611.8,78.6 610.5,80.2 609.2,81.5 C608.0,82.9 606.5,83.8 605.1,84.7 C603.7,85.7 602.4,86.6 601.0,87.3 C599.6,88.1 598.1,89.0 596.7,89.5 C595.2,89.9 593.5,90.2 592.0,90.1 C590.5,90.0 588.9,89.4 587.5,88.7 C586.1,88.0 584.8,87.0 583.6,86.0 C582.3,85.0 581.2,83.9 580.2,82.8 C579.1,81.6 577.9,80.6 577.0,79.3 C576.0,78.0 575.0,76.5 574.3,74.9 C573.6,73.3 573.1,71.5 572.8,69.7 C572.5,67.8 572.5,65.8 572.6,63.9 C572.6,62.0 572.9,60.0 573.2,58.1 C573.6,56.2 574.0,54.2 574.7,52.4 C575.3,50.6 576.1,48.8 577.1,47.3 C578.0,45.8 579.2,44.4 580.3,43.3 C581.5,42.2 582.8,41.3 584.1,40.5 C585.3,39.7 586.6,39.0 587.9,38.3 C589.2,37.6 590.6,36.8 592.0,36.5 C593.4,36.1 595.0,35.8 596.4,36.2 C597.8,36.6 599.4,37.5 600.5,38.9 C601.6,40.2 602.5,42.4 603.1,44.3 C603.8,46.1 603.9,48.4 604.3,50.2 C604.7,52.0 604.9,53.5 605.5,54.9 C606.2,56.4 607.1,57.4 608.1,58.9 C609.1,60.4 610.5,62.0 611.4,63.9Z"/></clipPath>
<path d="M611.4,63.9 C612.3,65.8 613.3,68.2 613.4,70.3 C613.6,72.5 613.2,74.9 612.5,76.7 C611.8,78.6 610.5,80.2 609.2,81.5 C608.0,82.9 606.5,83.8 605.1,84.7 C603.7,85.7 602.4,86.6 601.0,87.3 C599.6,88.1 598.1,89.0 596.7,89.5 C595.2,89.9 593.5,90.2 592.0,90.1 C590.5,90.0 588.9,89.4 587.5,88.7 C586.1,88.0 584.8,87.0 583.6,86.0 C582.3,85.0 581.2,83.9 580.2,82.8 C579.1,81.6 577.9,80.6 577.0,79.3 C576.0,78.0 575.0,76.5 574.3,74.9 C573.6,73.3 573.1,71.5 572.8,69.7 C572.5,67.8 572.5,65.8 572.6,63.9 C572.6,62.0 572.9,60.0 573.2,58.1 C573.6,56.2 574.0,54.2 574.7,52.4 C575.3,50.6 576.1,48.8 577.1,47.3 C578.0,45.8 579.2,44.4 580.3,43.3 C581.5,42.2 582.8,41.3 584.1,40.5 C585.3,39.7 586.6,39.0 587.9,38.3 C589.2,37.6 590.6,36.8 592.0,36.5 C593.4,36.1 595.0,35.8 596.4,36.2 C597.8,36.6 599.4,37.5 600.5,38.9 C601.6,40.2 602.5,42.4 603.1,44.3 C603.8,46.1 603.9,48.4 604.3,50.2 C604.7,52.0 604.9,53.5 605.5,54.9 C606.2,56.4 607.1,57.4 608.1,58.9 C609.1,60.4 610.5,62.0 611.4,63.9Z" fill="url(#tg1)" stroke="#7a3a3a" stroke-width="1.2" stroke-opacity="0.35"/>
<g clip-path="url(#tc1)">
<circle cx="594.0" cy="51.9" r="8" fill="#d8645a" opacity="0.55" filter="url(#blur2)"/>
<circle cx="588.0" cy="75.9" r="9" fill="#a08050" opacity="0.35" filter="url(#blur2)"/>
<circle cx="582.0" cy="71.9" r="3" fill="#5a3030" opacity="0.6" filter="url(#blur2)"/>
<rect x="568.3" y="34.0" width="47.4" height="59.8" fill="#b8504c" filter="url(#mottle2)" opacity="0.6"/>
<rect x="568.3" y="34.0" width="47.4" height="59.8" fill="#fff" filter="url(#cream1)" opacity="0.3"/>
<ellipse cx="592.3" cy="55.8" rx="4.4" ry="2.4" fill="#fffbe8" opacity="0.45" filter="url(#blur1)"/>
<ellipse cx="590.5" cy="64.3" rx="2.5" ry="1.5" fill="#fffbe8" opacity="0.45" filter="url(#blur1)"/>
<ellipse cx="587.7" cy="64.8" rx="2.5" ry="2.5" fill="#fffbe8" opacity="0.45" filter="url(#blur1)"/>
<ellipse cx="584.2" cy="55.7" rx="2.2" ry="2.2" fill="#fffbe8" opacity="0.45" filter="url(#blur1)"/>
</g>
<clipPath id="tc2"><path d="M698.7,65.2 C698.2,66.9 697.4,68.4 696.8,70.0 C696.3,71.6 696.0,73.2 695.4,74.7 C694.9,76.3 694.5,78.1 693.5,79.6 C692.6,81.0 691.4,82.5 689.9,83.4 C688.5,84.4 686.6,85.0 684.9,85.4 C683.2,85.8 681.4,85.7 679.7,85.9 C678.0,86.1 676.5,86.2 674.8,86.3 C673.1,86.4 671.4,86.7 669.7,86.6 C668.0,86.5 666.1,86.3 664.6,85.6 C663.0,84.9 661.6,83.8 660.4,82.6 C659.2,81.4 658.4,79.9 657.4,78.5 C656.5,77.2 655.6,75.9 654.6,74.5 C653.6,73.2 652.3,71.9 651.3,70.4 C650.4,68.8 649.2,67.0 648.8,65.2 C648.4,63.4 648.5,61.3 649.1,59.6 C649.7,57.8 651.2,56.2 652.5,54.9 C653.9,53.6 655.7,52.7 657.1,51.7 C658.6,50.6 659.9,49.8 661.2,48.8 C662.5,47.8 663.6,46.5 665.0,45.6 C666.4,44.6 667.9,43.5 669.5,43.1 C671.2,42.6 673.1,42.6 674.8,42.9 C676.5,43.2 678.1,44.2 679.6,44.9 C681.1,45.7 682.3,46.6 683.8,47.2 C685.3,47.8 686.8,48.1 688.5,48.7 C690.2,49.2 692.3,49.5 694.0,50.5 C695.7,51.4 697.5,52.7 698.5,54.2 C699.5,55.8 699.9,57.8 700.0,59.7 C700.0,61.5 699.3,63.5 698.7,65.2Z"/></clipPath>
<path d="M698.7,65.2 C698.2,66.9 697.4,68.4 696.8,70.0 C696.3,71.6 696.0,73.2 695.4,74.7 C694.9,76.3 694.5,78.1 693.5,79.6 C692.6,81.0 691.4,82.5 689.9,83.4 C688.5,84.4 686.6,85.0 684.9,85.4 C683.2,85.8 681.4,85.7 679.7,85.9 C678.0,86.1 676.5,86.2 674.8,86.3 C673.1,86.4 671.4,86.7 669.7,86.6 C668.0,86.5 666.1,86.3 664.6,85.6 C663.0,84.9 661.6,83.8 660.4,82.6 C659.2,81.4 658.4,79.9 657.4,78.5 C656.5,77.2 655.6,75.9 654.6,74.5 C653.6,73.2 652.3,71.9 651.3,70.4 C650.4,68.8 649.2,67.0 648.8,65.2 C648.4,63.4 648.5,61.3 649.1,59.6 C649.7,57.8 651.2,56.2 652.5,54.9 C653.9,53.6 655.7,52.7 657.1,51.7 C658.6,50.6 659.9,49.8 661.2,48.8 C662.5,47.8 663.6,46.5 665.0,45.6 C666.4,44.6 667.9,43.5 669.5,43.1 C671.2,42.6 673.1,42.6 674.8,42.9 C676.5,43.2 678.1,44.2 679.6,44.9 C681.1,45.7 682.3,46.6 683.8,47.2 C685.3,47.8 686.8,48.1 688.5,48.7 C690.2,49.2 692.3,49.5 694.0,50.5 C695.7,51.4 697.5,52.7 698.5,54.2 C699.5,55.8 699.9,57.8 700.0,59.7 C700.0,61.5 699.3,63.5 698.7,65.2Z" fill="url(#tg2)" stroke="#7a3a3a" stroke-width="1.2" stroke-opacity="0.35"/>
<g clip-path="url(#tc2)">
<circle cx="662.8" cy="65.2" r="8" fill="#cf5a4c" opacity="0.5" filter="url(#blur2)"/>
<circle cx="686.8" cy="57.2" r="3" fill="#7a3838" opacity="0.6" filter="url(#blur2)"/>
<rect x="647.4" y="38.7" width="54.8" height="53.0" fill="#b8504c" filter="url(#mottle3)" opacity="0.6"/>
<rect x="647.4" y="38.7" width="54.8" height="53.0" fill="#fff" filter="url(#cream1)" opacity="0.3"/>
<ellipse cx="667.0" cy="64.8" rx="2.4" ry="2.1" fill="#fffbe8" opacity="0.45" filter="url(#blur1)"/>
<ellipse cx="675.6" cy="61.1" rx="3.5" ry="1.9" fill="#fffbe8" opacity="0.45" filter="url(#blur1)"/>
<ellipse cx="665.1" cy="63.4" rx="3.5" ry="1.9" fill="#fffbe8" opacity="0.45" filter="url(#blur1)"/>
<ellipse cx="680.7" cy="66.7" rx="2.9" ry="1.5" fill="#fffbe8" opacity="0.45" filter="url(#blur1)"/>
</g>
<clipPath id="tc3"><path d="M765.9,65.0 C766.0,66.2 765.7,67.6 765.1,68.7 C764.4,69.7 763.2,70.6 762.3,71.4 C761.3,72.2 760.2,72.8 759.4,73.5 C758.5,74.3 758.0,75.1 757.2,75.9 C756.4,76.8 755.8,77.9 754.8,78.7 C753.8,79.5 752.5,80.3 751.2,80.6 C749.9,80.8 748.3,80.6 747.0,80.3 C745.7,79.9 744.5,79.0 743.3,78.5 C742.2,77.9 741.4,77.3 740.2,76.9 C739.1,76.5 737.9,76.4 736.6,76.1 C735.3,75.8 733.7,75.6 732.5,75.0 C731.3,74.4 730.0,73.5 729.4,72.4 C728.8,71.4 728.8,69.9 729.0,68.7 C729.2,67.4 730.0,66.1 730.6,65.0 C731.2,63.9 732.0,62.9 732.5,61.9 C733.0,60.9 733.3,60.0 733.7,59.0 C734.1,58.0 734.3,56.8 734.8,55.8 C735.4,54.8 736.1,53.7 736.9,52.9 C737.8,52.0 738.9,51.4 740.0,50.9 C741.1,50.4 742.3,50.2 743.5,50.0 C744.7,49.8 745.8,49.7 747.0,49.8 C748.2,49.8 749.3,50.0 750.4,50.4 C751.5,50.7 752.6,51.3 753.5,51.9 C754.4,52.6 755.1,53.5 755.9,54.2 C756.7,55.0 757.4,55.8 758.2,56.5 C759.1,57.2 760.0,57.9 761.0,58.7 C762.0,59.5 763.3,60.4 764.1,61.4 C764.9,62.5 765.7,63.8 765.9,65.0Z"/></clipPath>
<path d="M765.9,65.0 C766.0,66.2 765.7,67.6 765.1,68.7 C764.4,69.7 763.2,70.6 762.3,71.4 C761.3,72.2 760.2,72.8 759.4,73.5 C758.5,74.3 758.0,75.1 757.2,75.9 C756.4,76.8 755.8,77.9 754.8,78.7 C753.8,79.5 752.5,80.3 751.2,80.6 C749.9,80.8 748.3,80.6 747.0,80.3 C745.7,79.9 744.5,79.0 743.3,78.5 C742.2,77.9 741.4,77.3 740.2,76.9 C739.1,76.5 737.9,76.4 736.6,76.1 C735.3,75.8 733.7,75.6 732.5,75.0 C731.3,74.4 730.0,73.5 729.4,72.4 C728.8,71.4 728.8,69.9 729.0,68.7 C729.2,67.4 730.0,66.1 730.6,65.0 C731.2,63.9 732.0,62.9 732.5,61.9 C733.0,60.9 733.3,60.0 733.7,59.0 C734.1,58.0 734.3,56.8 734.8,55.8 C735.4,54.8 736.1,53.7 736.9,52.9 C737.8,52.0 738.9,51.4 740.0,50.9 C741.1,50.4 742.3,50.2 743.5,50.0 C744.7,49.8 745.8,49.7 747.0,49.8 C748.2,49.8 749.3,50.0 750.4,50.4 C751.5,50.7 752.6,51.3 753.5,51.9 C754.4,52.6 755.1,53.5 755.9,54.2 C756.7,55.0 757.4,55.8 758.2,56.5 C759.1,57.2 760.0,57.9 761.0,58.7 C762.0,59.5 763.3,60.4 764.1,61.4 C764.9,62.5 765.7,63.8 765.9,65.0Z" fill="url(#tg3)" stroke="#7a3a3a" stroke-width="1.2" stroke-opacity="0.35"/>
<g clip-path="url(#tc3)">
<circle cx="743.0" cy="57.0" r="5" fill="#7a3a3a" opacity="0.6" filter="url(#blur2)"/>
<circle cx="753.0" cy="71.0" r="5" fill="#8a5040" opacity="0.4" filter="url(#blur2)"/>
<rect x="726.0" y="46.0" width="42.0" height="38.0" fill="#b8504c" filter="url(#mottle1)" opacity="0.6"/>
<rect x="726.0" y="46.0" width="42.0" height="38.0" fill="#fff" filter="url(#cream1)" opacity="0.3"/>
<ellipse cx="752.7" cy="63.0" rx="3.8" ry="2.2" fill="#fffbe8" opacity="0.45" filter="url(#blur1)"/>
<ellipse cx="742.3" cy="59.1" rx="3.5" ry="1.4" fill="#fffbe8" opacity="0.45" filter="url(#blur1)"/>
<ellipse cx="744.5" cy="67.6" rx="4.2" ry="1.4" fill="#fffbe8" opacity="0.45" filter="url(#blur1)"/>
<ellipse cx="740.5" cy="60.6" rx="4.1" ry="1.2" fill="#fffbe8" opacity="0.45" filter="url(#blur1)"/>
</g>
<clipPath id="tc4"><path d="M538.0,156.4 C538.2,157.9 538.6,159.4 538.7,161.0 C538.8,162.6 538.8,164.4 538.4,166.0 C537.9,167.6 537.1,169.2 536.1,170.6 C535.1,172.0 533.8,173.2 532.5,174.3 C531.2,175.4 529.8,176.4 528.3,177.2 C526.8,178.1 525.3,179.0 523.6,179.6 C522.0,180.1 520.1,180.6 518.4,180.5 C516.7,180.5 514.8,180.0 513.2,179.4 C511.6,178.7 510.2,177.6 508.8,176.7 C507.4,175.7 506.2,174.6 504.9,173.6 C503.6,172.5 502.2,171.6 500.9,170.4 C499.6,169.3 498.2,168.1 497.2,166.6 C496.2,165.2 495.3,163.4 494.9,161.7 C494.6,160.0 494.7,158.1 495.0,156.4 C495.3,154.7 496.1,153.1 496.8,151.5 C497.5,150.0 498.2,148.6 499.0,147.2 C499.7,145.8 500.4,144.4 501.3,143.1 C502.2,141.7 503.1,140.4 504.4,139.3 C505.6,138.2 507.1,137.3 508.6,136.7 C510.1,136.0 511.8,135.7 513.4,135.3 C515.1,134.9 516.7,134.7 518.4,134.3 C520.1,133.9 522.0,133.3 523.9,133.1 C525.8,132.9 528.1,132.6 530.0,133.0 C532.0,133.4 534.1,134.2 535.5,135.5 C536.9,136.8 538.0,138.9 538.5,140.8 C539.0,142.7 538.8,145.0 538.7,146.8 C538.6,148.7 538.1,150.4 538.0,152.0 C537.8,153.6 537.9,154.9 538.0,156.4Z"/></clipPath>
<path d="M538.0,156.4 C538.2,157.9 538.6,159.4 538.7,161.0 C538.8,162.6 538.8,164.4 538.4,166.0 C537.9,167.6 537.1,169.2 536.1,170.6 C535.1,172.0 533.8,173.2 532.5,174.3 C531.2,175.4 529.8,176.4 528.3,177.2 C526.8,178.1 525.3,179.0 523.6,179.6 C522.0,180.1 520.1,180.6 518.4,180.5 C516.7,180.5 514.8,180.0 513.2,179.4 C511.6,178.7 510.2,177.6 508.8,176.7 C507.4,175.7 506.2,174.6 504.9,173.6 C503.6,172.5 502.2,171.6 500.9,170.4 C499.6,169.3 498.2,168.1 497.2,166.6 C496.2,165.2 495.3,163.4 494.9,161.7 C494.6,160.0 494.7,158.1 495.0,156.4 C495.3,154.7 496.1,153.1 496.8,151.5 C497.5,150.0 498.2,148.6 499.0,147.2 C499.7,145.8 500.4,144.4 501.3,143.1 C502.2,141.7 503.1,140.4 504.4,139.3 C505.6,138.2 507.1,137.3 508.6,136.7 C510.1,136.0 511.8,135.7 513.4,135.3 C515.1,134.9 516.7,134.7 518.4,134.3 C520.1,133.9 522.0,133.3 523.9,133.1 C525.8,132.9 528.1,132.6 530.0,133.0 C532.0,133.4 534.1,134.2 535.5,135.5 C536.9,136.8 538.0,138.9 538.5,140.8 C539.0,142.7 538.8,145.0 538.7,146.8 C538.6,148.7 538.1,150.4 538.0,152.0 C537.8,153.6 537.9,154.9 538.0,156.4Z" fill="url(#tg4)" stroke="#7a3a3a" stroke-width="1.2" stroke-opacity="0.35"/>
<g clip-path="url(#tc4)">
<circle cx="508.4" cy="170.4" r="9" fill="#c4685e" opacity="0.45" filter="url(#blur2)"/>
<circle cx="504.4" cy="156.4" r="4" fill="#8a3a3a" opacity="0.5" filter="url(#blur2)"/>
<rect x="490.9" y="129.7" width="55.0" height="53.4" fill="#b8504c" filter="url(#mottle2)" opacity="0.6"/>
<rect x="490.9" y="129.7" width="55.0" height="53.4" fill="#fff" filter="url(#cream1)" opacity="0.3"/>
<ellipse cx="525.9" cy="160.0" rx="3.8" ry="1.5" fill="#fffbe8" opacity="0.45" filter="url(#blur1)"/>
<ellipse cx="514.0" cy="157.5" rx="4.0" ry="1.2" fill="#fffbe8" opacity="0.45" filter="url(#blur1)"/>
<ellipse cx="511.0" cy="160.4" rx="2.3" ry="2.1" fill="#fffbe8" opacity="0.45" filter="url(#blur1)"/>
<ellipse cx="514.0" cy="156.4" rx="4.2" ry="2.0" fill="#fffbe8" opacity="0.45" filter="url(#blur1)"/>
</g>
<clipPath id="tc5"><path d="M608.7,148.0 C608.4,150.0 607.6,152.0 606.8,153.8 C606.1,155.6 605.1,157.2 604.4,159.0 C603.7,160.8 603.2,162.5 602.5,164.5 C601.9,166.5 601.5,169.0 600.5,171.0 C599.6,173.0 598.5,175.3 597.1,176.5 C595.7,177.6 593.8,178.2 592.2,178.0 C590.6,177.8 588.8,176.5 587.4,175.4 C586.0,174.3 584.8,172.6 583.6,171.6 C582.4,170.7 581.4,170.0 580.1,169.5 C578.7,169.0 577.2,169.2 575.6,168.6 C574.0,168.1 572.1,167.5 570.7,166.2 C569.3,165.0 568.0,163.0 567.3,161.0 C566.5,159.0 566.3,156.5 566.2,154.4 C566.0,152.2 566.4,150.0 566.5,148.0 C566.6,146.0 566.8,144.1 567.0,142.2 C567.2,140.2 567.2,138.2 567.7,136.4 C568.1,134.5 568.7,132.6 569.7,131.0 C570.6,129.4 571.9,128.1 573.2,126.9 C574.5,125.7 576.0,124.9 577.5,124.0 C579.0,123.1 580.5,122.1 582.2,121.3 C583.8,120.5 585.6,119.5 587.4,119.1 C589.2,118.7 591.3,118.4 593.1,118.9 C594.9,119.3 596.8,120.5 598.2,121.8 C599.6,123.1 600.8,125.0 601.8,126.7 C602.8,128.3 603.5,130.1 604.3,131.8 C605.2,133.4 606.1,134.9 606.8,136.6 C607.5,138.3 608.3,140.0 608.7,141.9 C609.0,143.8 609.0,146.0 608.7,148.0Z"/></clipPath>
<path d="M608.7,148.0 C608.4,150.0 607.6,152.0 606.8,153.8 C606.1,155.6 605.1,157.2 604.4,159.0 C603.7,160.8 603.2,162.5 602.5,164.5 C601.9,166.5 601.5,169.0 600.5,171.0 C599.6,173.0 598.5,175.3 597.1,176.5 C595.7,177.6 593.8,178.2 592.2,178.0 C590.6,177.8 588.8,176.5 587.4,175.4 C586.0,174.3 584.8,172.6 583.6,171.6 C582.4,170.7 581.4,170.0 580.1,169.5 C578.7,169.0 577.2,169.2 575.6,168.6 C574.0,168.1 572.1,167.5 570.7,166.2 C569.3,165.0 568.0,163.0 567.3,161.0 C566.5,159.0 566.3,156.5 566.2,154.4 C566.0,152.2 566.4,150.0 566.5,148.0 C566.6,146.0 566.8,144.1 567.0,142.2 C567.2,140.2 567.2,138.2 567.7,136.4 C568.1,134.5 568.7,132.6 569.7,131.0 C570.6,129.4 571.9,128.1 573.2,126.9 C574.5,125.7 576.0,124.9 577.5,124.0 C579.0,123.1 580.5,122.1 582.2,121.3 C583.8,120.5 585.6,119.5 587.4,119.1 C589.2,118.7 591.3,118.4 593.1,118.9 C594.9,119.3 596.8,120.5 598.2,121.8 C599.6,123.1 600.8,125.0 601.8,126.7 C602.8,128.3 603.5,130.1 604.3,131.8 C605.2,133.4 606.1,134.9 606.8,136.6 C607.5,138.3 608.3,140.0 608.7,141.9 C609.0,143.8 609.0,146.0 608.7,148.0Z" fill="url(#tg5)" stroke="#7a3a3a" stroke-width="1.2" stroke-opacity="0.35"/>
<g clip-path="url(#tc5)">
<circle cx="597.4" cy="166.0" r="6" fill="#c0685a" opacity="0.4" filter="url(#blur2)"/>
<rect x="560.8" y="116.5" width="53.2" height="63.0" fill="#b8504c" filter="url(#mottle3)" opacity="0.6"/>
<rect x="560.8" y="116.5" width="53.2" height="63.0" fill="#fff" filter="url(#cream1)" opacity="0.3"/>
<ellipse cx="593.1" cy="142.3" rx="4.0" ry="2.4" fill="#fffbe8" opacity="0.45" filter="url(#blur1)"/>
<ellipse cx="582.9" cy="150.4" rx="2.8" ry="1.4" fill="#fffbe8" opacity="0.45" filter="url(#blur1)"/>
<ellipse cx="583.5" cy="150.1" rx="2.4" ry="2.1" fill="#fffbe8" opacity="0.45" filter="url(#blur1)"/>
<ellipse cx="583.6" cy="138.9" rx="3.1" ry="1.7" fill="#fffbe8" opacity="0.45" filter="url(#blur1)"/>
</g>
<clipPath id="tc6"><path d="M703.6,134.0 C703.8,135.7 703.8,137.5 703.3,139.1 C702.9,140.7 702.0,142.3 701.0,143.6 C700.1,144.8 698.7,145.9 697.5,146.8 C696.3,147.8 695.0,148.5 693.9,149.3 C692.7,150.1 691.6,150.9 690.4,151.6 C689.2,152.3 688.0,153.0 686.6,153.5 C685.3,153.9 683.9,154.1 682.5,154.1 C681.1,154.1 679.7,153.8 678.4,153.4 C677.0,153.1 675.7,152.7 674.3,152.3 C672.9,151.8 671.4,151.5 670.0,150.8 C668.5,150.2 666.9,149.5 665.7,148.4 C664.5,147.3 663.3,145.8 662.7,144.2 C662.1,142.6 662.0,140.7 662.2,139.0 C662.3,137.3 663.0,135.5 663.5,134.0 C663.9,132.5 664.5,131.1 664.9,129.7 C665.3,128.2 665.4,126.8 665.7,125.3 C666.0,123.8 666.2,122.1 666.8,120.6 C667.5,119.2 668.4,117.6 669.6,116.6 C670.8,115.7 672.4,115.0 673.8,114.7 C675.3,114.3 676.9,114.5 678.3,114.5 C679.8,114.5 681.1,114.7 682.5,114.7 C683.9,114.7 685.2,114.5 686.6,114.6 C688.0,114.7 689.6,114.7 691.0,115.1 C692.4,115.6 693.8,116.3 695.0,117.3 C696.1,118.2 697.1,119.5 698.0,120.8 C698.8,122.1 699.5,123.5 700.2,124.9 C700.9,126.3 701.6,127.7 702.1,129.2 C702.7,130.7 703.4,132.3 703.6,134.0Z"/></clipPath>
<path d="M703.6,134.0 C703.8,135.7 703.8,137.5 703.3,139.1 C702.9,140.7 702.0,142.3 701.0,143.6 C700.1,144.8 698.7,145.9 697.5,146.8 C696.3,147.8 695.0,148.5 693.9,149.3 C692.7,150.1 691.6,150.9 690.4,151.6 C689.2,152.3 688.0,153.0 686.6,153.5 C685.3,153.9 683.9,154.1 682.5,154.1 C681.1,154.1 679.7,153.8 678.4,153.4 C677.0,153.1 675.7,152.7 674.3,152.3 C672.9,151.8 671.4,151.5 670.0,150.8 C668.5,150.2 666.9,149.5 665.7,148.4 C664.5,147.3 663.3,145.8 662.7,144.2 C662.1,142.6 662.0,140.7 662.2,139.0 C662.3,137.3 663.0,135.5 663.5,134.0 C663.9,132.5 664.5,131.1 664.9,129.7 C665.3,128.2 665.4,126.8 665.7,125.3 C666.0,123.8 666.2,122.1 666.8,120.6 C667.5,119.2 668.4,117.6 669.6,116.6 C670.8,115.7 672.4,115.0 673.8,114.7 C675.3,114.3 676.9,114.5 678.3,114.5 C679.8,114.5 681.1,114.7 682.5,114.7 C683.9,114.7 685.2,114.5 686.6,114.6 C688.0,114.7 689.6,114.7 691.0,115.1 C692.4,115.6 693.8,116.3 695.0,117.3 C696.1,118.2 697.1,119.5 698.0,120.8 C698.8,122.1 699.5,123.5 700.2,124.9 C700.9,126.3 701.6,127.7 702.1,129.2 C702.7,130.7 703.4,132.3 703.6,134.0Z" fill="url(#tg6)" stroke="#7a3a3a" stroke-width="1.2" stroke-opacity="0.35"/>
<g clip-path="url(#tc6)">
<circle cx="674.5" cy="132.0" r="7" fill="#d07060" opacity="0.5" filter="url(#blur2)"/>
<rect x="658.9" y="109.0" width="47.2" height="50.0" fill="#b8504c" filter="url(#mottle1)" opacity="0.6"/>
<rect x="658.9" y="109.0" width="47.2" height="50.0" fill="#fff" filter="url(#cream1)" opacity="0.3"/>
<ellipse cx="684.8" cy="137.8" rx="2.0" ry="2.4" fill="#fffbe8" opacity="0.45" filter="url(#blur1)"/>
<ellipse cx="686.6" cy="125.4" rx="4.0" ry="2.2" fill="#fffbe8" opacity="0.45" filter="url(#blur1)"/>
<ellipse cx="676.6" cy="138.8" rx="2.9" ry="1.8" fill="#fffbe8" opacity="0.45" filter="url(#blur1)"/>
<ellipse cx="683.9" cy="134.7" rx="3.9" ry="1.6" fill="#fffbe8" opacity="0.45" filter="url(#blur1)"/>
</g>
<clipPath id="tc7"><path d="M765.5,144.0 C765.8,145.2 766.0,146.6 765.9,147.8 C765.7,149.0 765.4,150.4 764.7,151.5 C764.0,152.5 763.0,153.5 761.9,154.3 C760.9,155.0 759.5,155.4 758.3,155.9 C757.1,156.3 756.0,156.5 754.9,156.9 C753.8,157.3 752.8,157.7 751.7,158.1 C750.6,158.5 749.5,159.1 748.3,159.4 C747.1,159.7 745.7,160.0 744.5,159.9 C743.2,159.8 741.9,159.3 740.9,158.6 C739.8,158.0 739.0,156.9 738.2,156.0 C737.4,155.1 736.9,154.0 736.2,153.1 C735.5,152.2 734.7,151.5 733.9,150.5 C733.1,149.6 732.1,148.7 731.4,147.7 C730.7,146.6 730.0,145.2 729.8,144.0 C729.7,142.8 729.9,141.3 730.5,140.2 C731.0,139.0 732.2,138.0 733.1,137.1 C734.1,136.2 735.4,135.7 736.3,135.0 C737.3,134.3 738.2,133.7 739.0,133.0 C739.9,132.3 740.6,131.4 741.5,130.6 C742.4,129.8 743.4,128.9 744.5,128.3 C745.7,127.8 747.0,127.3 748.3,127.3 C749.6,127.2 751.0,127.5 752.2,127.9 C753.4,128.3 754.5,129.1 755.5,129.8 C756.5,130.5 757.4,131.4 758.2,132.2 C759.0,133.1 759.8,133.9 760.5,134.8 C761.2,135.7 761.8,136.6 762.5,137.6 C763.1,138.5 763.7,139.5 764.2,140.6 C764.7,141.6 765.2,142.8 765.5,144.0Z"/></clipPath>
<path d="M765.5,144.0 C765.8,145.2 766.0,146.6 765.9,147.8 C765.7,149.0 765.4,150.4 764.7,151.5 C764.0,152.5 763.0,153.5 761.9,154.3 C760.9,155.0 759.5,155.4 758.3,155.9 C757.1,156.3 756.0,156.5 754.9,156.9 C753.8,157.3 752.8,157.7 751.7,158.1 C750.6,158.5 749.5,159.1 748.3,159.4 C747.1,159.7 745.7,160.0 744.5,159.9 C743.2,159.8 741.9,159.3 740.9,158.6 C739.8,158.0 739.0,156.9 738.2,156.0 C737.4,155.1 736.9,154.0 736.2,153.1 C735.5,152.2 734.7,151.5 733.9,150.5 C733.1,149.6 732.1,148.7 731.4,147.7 C730.7,146.6 730.0,145.2 729.8,144.0 C729.7,142.8 729.9,141.3 730.5,140.2 C731.0,139.0 732.2,138.0 733.1,137.1 C734.1,136.2 735.4,135.7 736.3,135.0 C737.3,134.3 738.2,133.7 739.0,133.0 C739.9,132.3 740.6,131.4 741.5,130.6 C742.4,129.8 743.4,128.9 744.5,128.3 C745.7,127.8 747.0,127.3 748.3,127.3 C749.6,127.2 751.0,127.5 752.2,127.9 C753.4,128.3 754.5,129.1 755.5,129.8 C756.5,130.5 757.4,131.4 758.2,132.2 C759.0,133.1 759.8,133.9 760.5,134.8 C761.2,135.7 761.8,136.6 762.5,137.6 C763.1,138.5 763.7,139.5 764.2,140.6 C764.7,141.6 765.2,142.8 765.5,144.0Z" fill="url(#tg7)" stroke="#7a3a3a" stroke-width="1.2" stroke-opacity="0.35"/>
<g clip-path="url(#tc7)">
<circle cx="742.3" cy="136.0" r="4" fill="#9a5050" opacity="0.4" filter="url(#blur2)"/>
<rect x="727.7" y="124.3" width="41.2" height="39.4" fill="#b8504c" filter="url(#mottle2)" opacity="0.6"/>
<rect x="727.7" y="124.3" width="41.2" height="39.4" fill="#fff" filter="url(#cream1)" opacity="0.3"/>
<ellipse cx="744.1" cy="143.3" rx="4.4" ry="2.1" fill="#fffbe8" opacity="0.45" filter="url(#blur1)"/>
<ellipse cx="747.2" cy="140.3" rx="2.3" ry="2.5" fill="#fffbe8" opacity="0.45" filter="url(#blur1)"/>
<ellipse cx="750.8" cy="139.7" rx="3.5" ry="2.1" fill="#fffbe8" opacity="0.45" filter="url(#blur1)"/>
<ellipse cx="752.9" cy="140.0" rx="2.8" ry="1.4" fill="#fffbe8" opacity="0.45" filter="url(#blur1)"/>
</g>
<clipPath id="tc8"><path d="M526.8,225.0 C527.0,226.6 526.9,228.4 526.4,229.9 C525.9,231.4 524.9,232.9 523.9,234.1 C522.8,235.3 521.3,236.1 520.1,236.9 C518.9,237.7 517.6,238.1 516.5,238.9 C515.3,239.6 514.5,240.3 513.4,241.3 C512.4,242.3 511.5,243.6 510.3,244.7 C509.0,245.7 507.5,247.0 506.0,247.5 C504.5,248.1 502.6,248.2 501.1,247.8 C499.5,247.5 498.0,246.3 496.8,245.2 C495.6,244.0 494.8,242.3 494.0,240.9 C493.2,239.5 492.7,238.1 491.9,236.8 C491.2,235.6 490.4,234.5 489.7,233.3 C488.9,232.1 487.8,230.9 487.2,229.5 C486.5,228.1 485.9,226.6 485.7,225.0 C485.5,223.4 485.7,221.7 486.1,220.2 C486.5,218.7 487.3,217.2 488.2,215.9 C489.0,214.6 490.0,213.5 491.0,212.4 C492.0,211.3 493.1,210.3 494.2,209.4 C495.3,208.4 496.5,207.5 497.7,206.8 C499.0,206.1 500.3,205.5 501.7,205.1 C503.1,204.7 504.6,204.5 506.0,204.5 C507.4,204.4 508.9,204.6 510.3,204.9 C511.7,205.3 513.2,205.8 514.5,206.4 C515.8,207.1 517.0,208.0 518.1,208.9 C519.2,209.9 520.2,211.0 521.2,212.2 C522.1,213.4 522.9,214.7 523.6,216.0 C524.4,217.4 525.1,218.8 525.7,220.3 C526.2,221.8 526.7,223.4 526.8,225.0Z"/></clipPath>
<path d="M526.8,225.0 C527.0,226.6 526.9,228.4 526.4,229.9 C525.9,231.4 524.9,232.9 523.9,234.1 C522.8,235.3 521.3,236.1 520.1,236.9 C518.9,237.7 517.6,238.1 516.5,238.9 C515.3,239.6 514.5,240.3 513.4,241.3 C512.4,242.3 511.5,243.6 510.3,244.7 C509.0,245.7 507.5,247.0 506.0,247.5 C504.5,248.1 502.6,248.2 501.1,247.8 C499.5,247.5 498.0,246.3 496.8,245.2 C495.6,244.0 494.8,242.3 494.0,240.9 C493.2,239.5 492.7,238.1 491.9,236.8 C491.2,235.6 490.4,234.5 489.7,233.3 C488.9,232.1 487.8,230.9 487.2,229.5 C486.5,228.1 485.9,226.6 485.7,225.0 C485.5,223.4 485.7,221.7 486.1,220.2 C486.5,218.7 487.3,217.2 488.2,215.9 C489.0,214.6 490.0,213.5 491.0,212.4 C492.0,211.3 493.1,210.3 494.2,209.4 C495.3,208.4 496.5,207.5 497.7,206.8 C499.0,206.1 500.3,205.5 501.7,205.1 C503.1,204.7 504.6,204.5 506.0,204.5 C507.4,204.4 508.9,204.6 510.3,204.9 C511.7,205.3 513.2,205.8 514.5,206.4 C515.8,207.1 517.0,208.0 518.1,208.9 C519.2,209.9 520.2,211.0 521.2,212.2 C522.1,213.4 522.9,214.7 523.6,216.0 C524.4,217.4 525.1,218.8 525.7,220.3 C526.2,221.8 526.7,223.4 526.8,225.0Z" fill="url(#tg8)" stroke="#7a3a3a" stroke-width="1.2" stroke-opacity="0.35"/>
<g clip-path="url(#tc8)">
<circle cx="500.0" cy="233.0" r="9" fill="#cc7a68" opacity="0.4" filter="url(#blur2)"/>
<circle cx="500.0" cy="223.0" r="3" fill="#fff6e0" opacity="0.8" filter="url(#blur2)"/>
<rect x="482.5" y="200.4" width="47.0" height="49.2" fill="#b8504c" filter="url(#mottle3)" opacity="0.6"/>
<rect x="482.5" y="200.4" width="47.0" height="49.2" fill="#fff" filter="url(#cream1)" opacity="0.3"/>
<ellipse cx="499.3" cy="227.5" rx="4.2" ry="1.7" fill="#fffbe8" opacity="0.45" filter="url(#blur1)"/>
<ellipse cx="501.5" cy="218.6" rx="2.2" ry="1.5" fill="#fffbe8" opacity="0.45" filter="url(#blur1)"/>
<ellipse cx="500.4" cy="228.0" rx="2.5" ry="1.4" fill="#fffbe8" opacity="0.45" filter="url(#blur1)"/>
<ellipse cx="511.7" cy="229.0" rx="2.3" ry="1.6" fill="#fffbe8" opacity="0.45" filter="url(#blur1)"/>
</g>
<clipPath id="tc9"><path d="M609.1,217.5 C608.5,219.4 607.5,221.2 606.7,222.7 C605.9,224.3 605.0,225.6 604.3,227.0 C603.6,228.4 603.1,229.7 602.5,231.3 C601.9,232.9 601.6,234.8 600.8,236.5 C600.1,238.2 599.3,240.2 598.2,241.6 C597.1,243.0 595.6,244.2 594.2,244.8 C592.7,245.4 591.0,245.4 589.5,245.2 C588.0,245.0 586.5,244.3 585.0,243.7 C583.6,243.1 582.2,242.4 580.8,241.6 C579.4,240.9 577.9,240.2 576.6,239.0 C575.3,237.9 574.0,236.6 573.1,235.0 C572.2,233.3 571.5,231.2 571.2,229.2 C570.9,227.3 571.1,225.0 571.2,223.1 C571.4,221.1 571.9,219.3 572.1,217.5 C572.3,215.7 572.4,214.1 572.5,212.3 C572.6,210.5 572.4,208.6 572.6,206.7 C572.8,204.7 573.1,202.5 573.8,200.8 C574.4,199.0 575.5,197.2 576.6,196.0 C577.8,194.8 579.4,194.1 580.9,193.6 C582.3,193.1 583.9,193.1 585.3,193.0 C586.7,192.9 588.1,193.1 589.5,193.1 C590.9,193.1 592.2,193.1 593.7,193.2 C595.1,193.4 596.6,193.5 598.0,193.9 C599.5,194.3 601.0,194.9 602.4,195.9 C603.8,196.8 605.2,198.1 606.3,199.6 C607.4,201.1 608.4,203.0 609.1,204.9 C609.7,206.9 610.1,209.2 610.1,211.2 C610.1,213.3 609.6,215.6 609.1,217.5Z"/></clipPath>
<path d="M609.1,217.5 C608.5,219.4 607.5,221.2 606.7,222.7 C605.9,224.3 605.0,225.6 604.3,227.0 C603.6,228.4 603.1,229.7 602.5,231.3 C601.9,232.9 601.6,234.8 600.8,236.5 C600.1,238.2 599.3,240.2 598.2,241.6 C597.1,243.0 595.6,244.2 594.2,244.8 C592.7,245.4 591.0,245.4 589.5,245.2 C588.0,245.0 586.5,244.3 585.0,243.7 C583.6,243.1 582.2,242.4 580.8,241.6 C579.4,240.9 577.9,240.2 576.6,239.0 C575.3,237.9 574.0,236.6 573.1,235.0 C572.2,233.3 571.5,231.2 571.2,229.2 C570.9,227.3 571.1,225.0 571.2,223.1 C571.4,221.1 571.9,219.3 572.1,217.5 C572.3,215.7 572.4,214.1 572.5,212.3 C572.6,210.5 572.4,208.6 572.6,206.7 C572.8,204.7 573.1,202.5 573.8,200.8 C574.4,199.0 575.5,197.2 576.6,196.0 C577.8,194.8 579.4,194.1 580.9,193.6 C582.3,193.1 583.9,193.1 585.3,193.0 C586.7,192.9 588.1,193.1 589.5,193.1 C590.9,193.1 592.2,193.1 593.7,193.2 C595.1,193.4 596.6,193.5 598.0,193.9 C599.5,194.3 601.0,194.9 602.4,195.9 C603.8,196.8 605.2,198.1 606.3,199.6 C607.4,201.1 608.4,203.0 609.1,204.9 C609.7,206.9 610.1,209.2 610.1,211.2 C610.1,213.3 609.6,215.6 609.1,217.5Z" fill="url(#tg9)" stroke="#7a3a3a" stroke-width="1.2" stroke-opacity="0.35"/>
<g clip-path="url(#tc9)">
<circle cx="585.5" cy="205.5" r="12" fill="#b8a862" opacity="0.75" filter="url(#blur2)"/>
<circle cx="593.5" cy="227.5" r="10" fill="#c45a56" opacity="0.5" filter="url(#blur2)"/>
<rect x="566.0" y="187.5" width="47.0" height="60.0" fill="#b8504c" filter="url(#mottle1)" opacity="0.6"/>
<rect x="566.0" y="187.5" width="47.0" height="60.0" fill="#fff" filter="url(#cream1)" opacity="0.3"/>
<ellipse cx="585.1" cy="214.2" rx="3.4" ry="1.3" fill="#fffbe8" opacity="0.45" filter="url(#blur1)"/>
<ellipse cx="588.6" cy="223.2" rx="3.4" ry="1.9" fill="#fffbe8" opacity="0.45" filter="url(#blur1)"/>
<ellipse cx="593.0" cy="214.0" rx="2.7" ry="2.3" fill="#fffbe8" opacity="0.45" filter="url(#blur1)"/>
<ellipse cx="583.3" cy="222.0" rx="4.2" ry="1.9" fill="#fffbe8" opacity="0.45" filter="url(#blur1)"/>
</g>
<clipPath id="tc10"><path d="M697.2,216.0 C696.7,217.8 695.8,219.4 695.2,220.9 C694.5,222.5 693.9,224.0 693.3,225.5 C692.7,227.1 692.3,228.7 691.5,230.2 C690.7,231.8 689.8,233.4 688.6,234.6 C687.5,235.9 685.9,236.9 684.4,237.6 C682.8,238.3 681.1,238.5 679.4,238.8 C677.7,239.1 676.1,239.2 674.4,239.4 C672.7,239.5 671.0,239.8 669.2,239.8 C667.4,239.7 665.4,239.7 663.7,239.1 C662.0,238.5 660.3,237.5 659.0,236.1 C657.7,234.8 656.8,232.9 656.1,231.2 C655.4,229.5 655.2,227.6 654.7,225.9 C654.2,224.2 653.9,222.7 653.3,221.0 C652.7,219.4 651.7,217.8 651.2,216.0 C650.7,214.2 650.0,212.1 650.1,210.2 C650.2,208.3 650.7,206.2 651.7,204.6 C652.7,203.0 654.5,201.7 656.1,200.8 C657.7,199.8 659.6,199.4 661.2,198.8 C662.9,198.2 664.3,197.8 665.7,197.2 C667.1,196.5 668.3,195.6 669.8,194.9 C671.2,194.1 672.8,193.2 674.4,192.7 C676.0,192.2 677.9,191.9 679.6,192.1 C681.4,192.2 683.2,192.8 684.8,193.5 C686.4,194.2 688.0,195.1 689.5,196.2 C691.0,197.3 692.5,198.5 693.8,199.9 C695.0,201.3 696.2,202.9 697.0,204.7 C697.7,206.4 698.2,208.4 698.2,210.3 C698.2,212.2 697.7,214.2 697.2,216.0Z"/></clipPath>
<path d="M697.2,216.0 C696.7,217.8 695.8,219.4 695.2,220.9 C694.5,222.5 693.9,224.0 693.3,225.5 C692.7,227.1 692.3,228.7 691.5,230.2 C690.7,231.8 689.8,233.4 688.6,234.6 C687.5,235.9 685.9,236.9 684.4,237.6 C682.8,238.3 681.1,238.5 679.4,238.8 C677.7,239.1 676.1,239.2 674.4,239.4 C672.7,239.5 671.0,239.8 669.2,239.8 C667.4,239.7 665.4,239.7 663.7,239.1 C662.0,238.5 660.3,237.5 659.0,236.1 C657.7,234.8 656.8,232.9 656.1,231.2 C655.4,229.5 655.2,227.6 654.7,225.9 C654.2,224.2 653.9,222.7 653.3,221.0 C652.7,219.4 651.7,217.8 651.2,216.0 C650.7,214.2 650.0,212.1 650.1,210.2 C650.2,208.3 650.7,206.2 651.7,204.6 C652.7,203.0 654.5,201.7 656.1,200.8 C657.7,199.8 659.6,199.4 661.2,198.8 C662.9,198.2 664.3,197.8 665.7,197.2 C667.1,196.5 668.3,195.6 669.8,194.9 C671.2,194.1 672.8,193.2 674.4,192.7 C676.0,192.2 677.9,191.9 679.6,192.1 C681.4,192.2 683.2,192.8 684.8,193.5 C686.4,194.2 688.0,195.1 689.5,196.2 C691.0,197.3 692.5,198.5 693.8,199.9 C695.0,201.3 696.2,202.9 697.0,204.7 C697.7,206.4 698.2,208.4 698.2,210.3 C698.2,212.2 697.7,214.2 697.2,216.0Z" fill="url(#tg10)" stroke="#7a3a3a" stroke-width="1.2" stroke-opacity="0.35"/>
<g clip-path="url(#tc10)">
<circle cx="664.4" cy="214.0" r="4" fill="#7a4a40" opacity="0.5" filter="url(#blur2)"/>
<circle cx="668.4" cy="228.0" r="8" fill="#e4d4b0" opacity="0.5" filter="url(#blur2)"/>
<rect x="647.4" y="188.0" width="54.0" height="56.0" fill="#b8504c" filter="url(#mottle2)" opacity="0.6"/>
<rect x="647.4" y="188.0" width="54.0" height="56.0" fill="#fff" filter="url(#cream1)" opacity="0.3"/>
<ellipse cx="681.2" cy="211.7" rx="4.1" ry="1.5" fill="#fffbe8" opacity="0.45" filter="url(#blur1)"/>
<ellipse cx="672.9" cy="209.8" rx="3.4" ry="1.3" fill="#fffbe8" opacity="0.45" filter="url(#blur1)"/>
<ellipse cx="671.7" cy="210.5" rx="2.1" ry="2.3" fill="#fffbe8" opacity="0.45" filter="url(#blur1)"/>
<ellipse cx="680.8" cy="207.7" rx="3.6" ry="1.9" fill="#fffbe8" opacity="0.45" filter="url(#blur1)"/>
</g>
<clipPath id="tc11"><path d="M767.8,215.5 C767.7,217.2 767.5,218.9 767.1,220.5 C766.6,222.1 765.8,223.5 765.1,225.0 C764.3,226.4 763.5,227.6 762.7,229.0 C761.9,230.4 761.2,231.8 760.3,233.2 C759.4,234.6 758.4,236.3 757.2,237.4 C755.9,238.4 754.3,239.4 752.8,239.7 C751.3,240.0 749.5,239.6 748.0,239.1 C746.5,238.6 745.1,237.4 743.8,236.7 C742.5,235.9 741.4,235.1 740.0,234.5 C738.7,233.9 737.3,233.6 735.9,233.0 C734.4,232.4 732.7,231.8 731.4,230.7 C730.2,229.6 729.0,228.0 728.4,226.4 C727.8,224.7 727.8,222.6 727.9,220.8 C727.9,219.0 728.5,217.2 728.8,215.5 C729.1,213.8 729.4,212.3 729.5,210.7 C729.7,209.0 729.6,207.2 729.9,205.5 C730.2,203.8 730.6,201.8 731.4,200.3 C732.3,198.9 733.6,197.6 735.0,196.8 C736.4,196.0 738.2,195.9 739.7,195.7 C741.2,195.5 742.7,195.8 744.1,195.6 C745.4,195.5 746.6,195.1 748.0,194.6 C749.4,194.2 750.9,193.3 752.5,193.0 C754.0,192.7 755.9,192.4 757.5,192.9 C759.0,193.3 760.6,194.4 761.8,195.6 C762.9,196.9 763.7,198.8 764.4,200.4 C765.1,202.1 765.5,203.9 766.0,205.6 C766.4,207.2 766.8,208.8 767.1,210.5 C767.4,212.1 767.8,213.8 767.8,215.5Z"/></clipPath>
<path d="M767.8,215.5 C767.7,217.2 767.5,218.9 767.1,220.5 C766.6,222.1 765.8,223.5 765.1,225.0 C764.3,226.4 763.5,227.6 762.7,229.0 C761.9,230.4 761.2,231.8 760.3,233.2 C759.4,234.6 758.4,236.3 757.2,237.4 C755.9,238.4 754.3,239.4 752.8,239.7 C751.3,240.0 749.5,239.6 748.0,239.1 C746.5,238.6 745.1,237.4 743.8,236.7 C742.5,235.9 741.4,235.1 740.0,234.5 C738.7,233.9 737.3,233.6 735.9,233.0 C734.4,232.4 732.7,231.8 731.4,230.7 C730.2,229.6 729.0,228.0 728.4,226.4 C727.8,224.7 727.8,222.6 727.9,220.8 C727.9,219.0 728.5,217.2 728.8,215.5 C729.1,213.8 729.4,212.3 729.5,210.7 C729.7,209.0 729.6,207.2 729.9,205.5 C730.2,203.8 730.6,201.8 731.4,200.3 C732.3,198.9 733.6,197.6 735.0,196.8 C736.4,196.0 738.2,195.9 739.7,195.7 C741.2,195.5 742.7,195.8 744.1,195.6 C745.4,195.5 746.6,195.1 748.0,194.6 C749.4,194.2 750.9,193.3 752.5,193.0 C754.0,192.7 755.9,192.4 757.5,192.9 C759.0,193.3 760.6,194.4 761.8,195.6 C762.9,196.9 763.7,198.8 764.4,200.4 C765.1,202.1 765.5,203.9 766.0,205.6 C766.4,207.2 766.8,208.8 767.1,210.5 C767.4,212.1 767.8,213.8 767.8,215.5Z" fill="url(#tg11)" stroke="#7a3a3a" stroke-width="1.2" stroke-opacity="0.35"/>
<g clip-path="url(#tc11)">
<circle cx="750.0" cy="213.5" r="9" fill="#c05850" opacity="0.45" filter="url(#blur2)"/>
<circle cx="740.0" cy="223.5" r="6" fill="#d8c898" opacity="0.5" filter="url(#blur2)"/>
<rect x="724.0" y="188.5" width="48.0" height="54.0" fill="#b8504c" filter="url(#mottle3)" opacity="0.6"/>
<rect x="724.0" y="188.5" width="48.0" height="54.0" fill="#fff" filter="url(#cream1)" opacity="0.3"/>
<ellipse cx="752.2" cy="208.6" rx="4.4" ry="1.8" fill="#fffbe8" opacity="0.45" filter="url(#blur1)"/>
<ellipse cx="745.4" cy="215.1" rx="2.4" ry="1.5" fill="#fffbe8" opacity="0.45" filter="url(#blur1)"/>
<ellipse cx="745.7" cy="208.8" rx="3.7" ry="1.7" fill="#fffbe8" opacity="0.45" filter="url(#blur1)"/>
<ellipse cx="745.1" cy="209.6" rx="2.6" ry="2.1" fill="#fffbe8" opacity="0.45" filter="url(#blur1)"/>
</g>
<clipPath id="tc12"><path d="M538.0,298.8 C538.0,300.4 538.2,301.9 538.1,303.5 C538.0,305.1 538.0,306.8 537.5,308.4 C537.0,310.0 536.2,311.6 535.1,312.9 C534.1,314.2 532.6,315.3 531.2,316.2 C529.7,317.1 528.1,317.7 526.5,318.2 C524.9,318.7 523.3,319.1 521.7,319.4 C520.1,319.7 518.4,319.9 516.8,319.9 C515.2,319.9 513.5,319.7 512.0,319.3 C510.4,318.9 508.9,318.2 507.5,317.5 C506.1,316.8 504.7,315.9 503.4,315.0 C502.1,314.1 500.8,313.1 499.6,312.0 C498.4,310.9 497.0,309.8 496.0,308.4 C495.0,307.1 494.1,305.5 493.6,303.9 C493.1,302.3 492.9,300.5 493.1,298.8 C493.2,297.1 493.8,295.4 494.4,293.9 C495.0,292.3 495.8,290.8 496.6,289.4 C497.4,288.0 498.3,286.6 499.3,285.3 C500.3,284.0 501.4,282.7 502.7,281.7 C504.0,280.7 505.5,279.9 507.1,279.4 C508.7,278.9 510.4,278.8 512.1,278.8 C513.7,278.7 515.2,279.0 516.8,279.1 C518.4,279.2 519.8,279.2 521.4,279.3 C523.0,279.4 524.7,279.2 526.5,279.4 C528.2,279.7 530.2,280.0 531.7,280.7 C533.3,281.5 534.9,282.7 535.9,284.1 C536.9,285.5 537.5,287.3 537.9,289.0 C538.3,290.7 538.1,292.5 538.1,294.1 C538.2,295.7 538.1,297.2 538.0,298.8Z"/></clipPath>
<path d="M538.0,298.8 C538.0,300.4 538.2,301.9 538.1,303.5 C538.0,305.1 538.0,306.8 537.5,308.4 C537.0,310.0 536.2,311.6 535.1,312.9 C534.1,314.2 532.6,315.3 531.2,316.2 C529.7,317.1 528.1,317.7 526.5,318.2 C524.9,318.7 523.3,319.1 521.7,319.4 C520.1,319.7 518.4,319.9 516.8,319.9 C515.2,319.9 513.5,319.7 512.0,319.3 C510.4,318.9 508.9,318.2 507.5,317.5 C506.1,316.8 504.7,315.9 503.4,315.0 C502.1,314.1 500.8,313.1 499.6,312.0 C498.4,310.9 497.0,309.8 496.0,308.4 C495.0,307.1 494.1,305.5 493.6,303.9 C493.1,302.3 492.9,300.5 493.1,298.8 C493.2,297.1 493.8,295.4 494.4,293.9 C495.0,292.3 495.8,290.8 496.6,289.4 C497.4,288.0 498.3,286.6 499.3,285.3 C500.3,284.0 501.4,282.7 502.7,281.7 C504.0,280.7 505.5,279.9 507.1,279.4 C508.7,278.9 510.4,278.8 512.1,278.8 C513.7,278.7 515.2,279.0 516.8,279.1 C518.4,279.2 519.8,279.2 521.4,279.3 C523.0,279.4 524.7,279.2 526.5,279.4 C528.2,279.7 530.2,280.0 531.7,280.7 C533.3,281.5 534.9,282.7 535.9,284.1 C536.9,285.5 537.5,287.3 537.9,289.0 C538.3,290.7 538.1,292.5 538.1,294.1 C538.2,295.7 538.1,297.2 538.0,298.8Z" fill="url(#tg12)" stroke="#7a3a3a" stroke-width="1.2" stroke-opacity="0.35"/>
<g clip-path="url(#tc12)">
<circle cx="506.8" cy="294.8" r="4" fill="#7a4038" opacity="0.5" filter="url(#blur2)"/>
<circle cx="504.8" cy="308.8" r="6" fill="#c26a5e" opacity="0.4" filter="url(#blur2)"/>
<rect x="490.4" y="273.2" width="52.8" height="51.2" fill="#b8504c" filter="url(#mottle1)" opacity="0.6"/>
<rect x="490.4" y="273.2" width="52.8" height="51.2" fill="#fff" filter="url(#cream1)" opacity="0.3"/>
<ellipse cx="515.3" cy="299.2" rx="3.5" ry="2.1" fill="#fffbe8" opacity="0.45" filter="url(#blur1)"/>
<ellipse cx="522.9" cy="300.4" rx="2.4" ry="1.5" fill="#fffbe8" opacity="0.45" filter="url(#blur1)"/>
<ellipse cx="514.9" cy="295.0" rx="4.4" ry="2.1" fill="#fffbe8" opacity="0.45" filter="url(#blur1)"/>
<ellipse cx="515.1" cy="294.4" rx="2.6" ry="2.0" fill="#fffbe8" opacity="0.45" filter="url(#blur1)"/>
</g>
<clipPath id="tc13"><path d="M613.7,300.9 C613.9,302.5 614.4,304.0 614.4,305.7 C614.5,307.4 614.6,309.2 614.1,310.9 C613.7,312.5 612.9,314.2 611.8,315.6 C610.8,317.0 609.3,318.1 607.9,319.1 C606.5,320.1 604.9,320.8 603.3,321.5 C601.7,322.1 600.0,322.6 598.4,322.8 C596.7,323.0 595.0,323.0 593.4,322.7 C591.8,322.4 590.2,321.8 588.8,321.1 C587.4,320.4 586.1,319.5 584.8,318.7 C583.5,318.0 582.3,317.3 580.9,316.6 C579.5,315.8 577.9,315.3 576.5,314.4 C575.1,313.4 573.4,312.4 572.4,311.0 C571.4,309.6 570.6,307.9 570.3,306.2 C570.0,304.5 570.4,302.6 570.8,300.9 C571.2,299.2 572.0,297.7 572.6,296.1 C573.1,294.6 573.5,293.2 574.0,291.6 C574.5,290.0 574.7,288.1 575.4,286.6 C576.1,285.0 577.0,283.2 578.4,282.0 C579.7,280.9 581.5,280.1 583.3,279.8 C585.0,279.6 587.0,280.1 588.7,280.4 C590.4,280.7 591.9,281.4 593.4,281.7 C594.9,281.9 596.2,281.9 597.7,281.9 C599.3,281.8 601.1,281.2 602.8,281.3 C604.6,281.4 606.7,281.5 608.2,282.3 C609.8,283.1 611.2,284.5 612.1,286.0 C613.0,287.5 613.2,289.5 613.4,291.3 C613.6,293.0 613.3,294.7 613.4,296.3 C613.4,297.9 613.5,299.3 613.7,300.9Z"/></clipPath>
<path d="M613.7,300.9 C613.9,302.5 614.4,304.0 614.4,305.7 C614.5,307.4 614.6,309.2 614.1,310.9 C613.7,312.5 612.9,314.2 611.8,315.6 C610.8,317.0 609.3,318.1 607.9,319.1 C606.5,320.1 604.9,320.8 603.3,321.5 C601.7,322.1 600.0,322.6 598.4,322.8 C596.7,323.0 595.0,323.0 593.4,322.7 C591.8,322.4 590.2,321.8 588.8,321.1 C587.4,320.4 586.1,319.5 584.8,318.7 C583.5,318.0 582.3,317.3 580.9,316.6 C579.5,315.8 577.9,315.3 576.5,314.4 C575.1,313.4 573.4,312.4 572.4,311.0 C571.4,309.6 570.6,307.9 570.3,306.2 C570.0,304.5 570.4,302.6 570.8,300.9 C571.2,299.2 572.0,297.7 572.6,296.1 C573.1,294.6 573.5,293.2 574.0,291.6 C574.5,290.0 574.7,288.1 575.4,286.6 C576.1,285.0 577.0,283.2 578.4,282.0 C579.7,280.9 581.5,280.1 583.3,279.8 C585.0,279.6 587.0,280.1 588.7,280.4 C590.4,280.7 591.9,281.4 593.4,281.7 C594.9,281.9 596.2,281.9 597.7,281.9 C599.3,281.8 601.1,281.2 602.8,281.3 C604.6,281.4 606.7,281.5 608.2,282.3 C609.8,283.1 611.2,284.5 612.1,286.0 C613.0,287.5 613.2,289.5 613.4,291.3 C613.6,293.0 613.3,294.7 613.4,296.3 C613.4,297.9 613.5,299.3 613.7,300.9Z" fill="url(#tg13)" stroke="#7a3a3a" stroke-width="1.2" stroke-opacity="0.35"/>
<g clip-path="url(#tc13)">
<circle cx="601.4" cy="296.9" r="6" fill="#c86a5c" opacity="0.45" filter="url(#blur2)"/>
<circle cx="583.4" cy="304.9" r="3" fill="#6a3a3a" opacity="0.5" filter="url(#blur2)"/>
<rect x="567.4" y="274.9" width="52.0" height="52.0" fill="#b8504c" filter="url(#mottle2)" opacity="0.6"/>
<rect x="567.4" y="274.9" width="52.0" height="52.0" fill="#fff" filter="url(#cream1)" opacity="0.3"/>
<ellipse cx="584.0" cy="304.4" rx="3.8" ry="1.2" fill="#fffbe8" opacity="0.45" filter="url(#blur1)"/>
<ellipse cx="593.2" cy="294.7" rx="4.2" ry="2.3" fill="#fffbe8" opacity="0.45" filter="url(#blur1)"/>
<ellipse cx="588.8" cy="300.2" rx="3.2" ry="1.6" fill="#fffbe8" opacity="0.45" filter="url(#blur1)"/>
<ellipse cx="591.1" cy="297.1" rx="3.2" ry="2.4" fill="#fffbe8" opacity="0.45" filter="url(#blur1)"/>
</g>
<clipPath id="tc14"><path d="M691.9,293.2 C692.3,294.8 692.6,296.6 692.7,298.3 C692.7,300.1 692.5,301.9 692.1,303.6 C691.8,305.3 691.2,306.9 690.5,308.4 C689.8,309.8 688.9,311.3 687.9,312.4 C686.9,313.6 685.8,314.7 684.5,315.3 C683.3,315.8 681.9,316.1 680.6,316.0 C679.3,315.9 678.0,315.2 676.8,314.7 C675.6,314.1 674.6,313.3 673.5,312.8 C672.5,312.2 671.5,311.9 670.4,311.5 C669.3,311.1 668.0,311.1 666.8,310.4 C665.7,309.8 664.4,309.1 663.6,307.8 C662.8,306.6 662.2,304.9 662.0,303.2 C661.8,301.6 662.1,299.6 662.3,297.9 C662.5,296.2 663.1,294.7 663.2,293.2 C663.3,291.7 663.2,290.3 663.1,288.7 C663.0,287.0 662.6,285.1 662.6,283.1 C662.6,281.2 662.7,278.9 663.3,277.1 C663.8,275.4 664.9,273.8 666.0,272.9 C667.1,272.0 668.6,271.7 669.9,271.6 C671.2,271.4 672.5,271.9 673.6,272.0 C674.8,272.1 675.7,272.1 676.8,272.1 C677.9,272.0 678.9,271.6 680.0,271.7 C681.1,271.8 682.4,271.9 683.4,272.6 C684.4,273.2 685.4,274.4 686.1,275.7 C686.9,276.9 687.3,278.7 687.8,280.2 C688.3,281.7 688.5,283.2 688.9,284.6 C689.4,286.0 689.9,287.3 690.3,288.7 C690.8,290.1 691.5,291.6 691.9,293.2Z"/></clipPath>
<path d="M691.9,293.2 C692.3,294.8 692.6,296.6 692.7,298.3 C692.7,300.1 692.5,301.9 692.1,303.6 C691.8,305.3 691.2,306.9 690.5,308.4 C689.8,309.8 688.9,311.3 687.9,312.4 C686.9,313.6 685.8,314.7 684.5,315.3 C683.3,315.8 681.9,316.1 680.6,316.0 C679.3,315.9 678.0,315.2 676.8,314.7 C675.6,314.1 674.6,313.3 673.5,312.8 C672.5,312.2 671.5,311.9 670.4,311.5 C669.3,311.1 668.0,311.1 666.8,310.4 C665.7,309.8 664.4,309.1 663.6,307.8 C662.8,306.6 662.2,304.9 662.0,303.2 C661.8,301.6 662.1,299.6 662.3,297.9 C662.5,296.2 663.1,294.7 663.2,293.2 C663.3,291.7 663.2,290.3 663.1,288.7 C663.0,287.0 662.6,285.1 662.6,283.1 C662.6,281.2 662.7,278.9 663.3,277.1 C663.8,275.4 664.9,273.8 666.0,272.9 C667.1,272.0 668.6,271.7 669.9,271.6 C671.2,271.4 672.5,271.9 673.6,272.0 C674.8,272.1 675.7,272.1 676.8,272.1 C677.9,272.0 678.9,271.6 680.0,271.7 C681.1,271.8 682.4,271.9 683.4,272.6 C684.4,273.2 685.4,274.4 686.1,275.7 C686.9,276.9 687.3,278.7 687.8,280.2 C688.3,281.7 688.5,283.2 688.9,284.6 C689.4,286.0 689.9,287.3 690.3,288.7 C690.8,290.1 691.5,291.6 691.9,293.2Z" fill="url(#tg14)" stroke="#7a3a3a" stroke-width="1.2" stroke-opacity="0.35"/>
<g clip-path="url(#tc14)">
<circle cx="682.8" cy="301.2" r="3" fill="#6a3a3a" opacity="0.6" filter="url(#blur2)"/>
<circle cx="676.8" cy="279.2" r="6" fill="#d8b890" opacity="0.4" filter="url(#blur2)"/>
<rect x="656.4" y="266.8" width="40.8" height="52.8" fill="#b8504c" filter="url(#mottle3)" opacity="0.6"/>
<rect x="656.4" y="266.8" width="40.8" height="52.8" fill="#fff" filter="url(#cream1)" opacity="0.3"/>
<ellipse cx="672.6" cy="284.7" rx="3.7" ry="1.5" fill="#fffbe8" opacity="0.45" filter="url(#blur1)"/>
<ellipse cx="677.6" cy="285.5" rx="4.5" ry="2.1" fill="#fffbe8" opacity="0.45" filter="url(#blur1)"/>
<ellipse cx="673.3" cy="284.1" rx="4.1" ry="2.4" fill="#fffbe8" opacity="0.45" filter="url(#blur1)"/>
<ellipse cx="673.9" cy="284.8" rx="4.4" ry="2.4" fill="#fffbe8" opacity="0.45" filter="url(#blur1)"/>
</g>
<clipPath id="tc15"><path d="M776.4,292.8 C775.5,294.5 773.8,295.9 772.7,297.3 C771.6,298.6 770.4,299.6 769.6,300.8 C768.8,302.1 768.3,303.3 767.7,304.7 C767.1,306.1 766.6,307.8 765.7,309.1 C764.9,310.4 763.7,311.8 762.5,312.6 C761.2,313.5 759.7,313.9 758.3,314.1 C756.9,314.3 755.4,314.0 754.0,313.9 C752.6,313.7 751.3,313.4 749.9,313.1 C748.5,312.8 747.1,312.6 745.8,312.1 C744.4,311.5 742.9,310.9 741.7,309.9 C740.5,308.9 739.4,307.6 738.5,306.3 C737.6,304.9 737.0,303.4 736.3,301.9 C735.6,300.4 735.1,299.0 734.4,297.5 C733.8,295.9 733.0,294.4 732.6,292.8 C732.1,291.2 731.6,289.4 731.7,287.7 C731.8,286.1 732.2,284.3 733.0,282.9 C733.8,281.6 735.2,280.4 736.4,279.4 C737.7,278.4 739.2,277.7 740.6,277.0 C742.0,276.2 743.3,275.6 744.7,274.9 C746.1,274.2 747.5,273.3 749.1,272.8 C750.6,272.3 752.4,271.9 754.0,271.9 C755.6,271.9 757.4,272.3 758.9,272.8 C760.5,273.3 761.8,274.2 763.3,274.9 C764.7,275.6 766.0,276.2 767.5,276.9 C769.0,277.5 770.7,278.0 772.2,278.9 C773.8,279.8 775.6,280.8 776.6,282.2 C777.6,283.6 778.3,285.5 778.2,287.3 C778.2,289.1 777.3,291.1 776.4,292.8Z"/></clipPath>
<path d="M776.4,292.8 C775.5,294.5 773.8,295.9 772.7,297.3 C771.6,298.6 770.4,299.6 769.6,300.8 C768.8,302.1 768.3,303.3 767.7,304.7 C767.1,306.1 766.6,307.8 765.7,309.1 C764.9,310.4 763.7,311.8 762.5,312.6 C761.2,313.5 759.7,313.9 758.3,314.1 C756.9,314.3 755.4,314.0 754.0,313.9 C752.6,313.7 751.3,313.4 749.9,313.1 C748.5,312.8 747.1,312.6 745.8,312.1 C744.4,311.5 742.9,310.9 741.7,309.9 C740.5,308.9 739.4,307.6 738.5,306.3 C737.6,304.9 737.0,303.4 736.3,301.9 C735.6,300.4 735.1,299.0 734.4,297.5 C733.8,295.9 733.0,294.4 732.6,292.8 C732.1,291.2 731.6,289.4 731.7,287.7 C731.8,286.1 732.2,284.3 733.0,282.9 C733.8,281.6 735.2,280.4 736.4,279.4 C737.7,278.4 739.2,277.7 740.6,277.0 C742.0,276.2 743.3,275.6 744.7,274.9 C746.1,274.2 747.5,273.3 749.1,272.8 C750.6,272.3 752.4,271.9 754.0,271.9 C755.6,271.9 757.4,272.3 758.9,272.8 C760.5,273.3 761.8,274.2 763.3,274.9 C764.7,275.6 766.0,276.2 767.5,276.9 C769.0,277.5 770.7,278.0 772.2,278.9 C773.8,279.8 775.6,280.8 776.6,282.2 C777.6,283.6 778.3,285.5 778.2,287.3 C778.2,289.1 777.3,291.1 776.4,292.8Z" fill="url(#tg15)" stroke="#7a3a3a" stroke-width="1.2" stroke-opacity="0.35"/>
<g clip-path="url(#tc15)">
<circle cx="744.0" cy="284.8" r="6" fill="#c8584c" opacity="0.5" filter="url(#blur2)"/>
<circle cx="758.0" cy="300.8" r="8" fill="#e6dab2" opacity="0.45" filter="url(#blur2)"/>
<rect x="728.0" y="267.5" width="52.0" height="50.6" fill="#b8504c" filter="url(#mottle1)" opacity="0.6"/>
<rect x="728.0" y="267.5" width="52.0" height="50.6" fill="#fff" filter="url(#cream1)" opacity="0.3"/>
<ellipse cx="759.9" cy="286.2" rx="2.3" ry="1.3" fill="#fffbe8" opacity="0.45" filter="url(#blur1)"/>
<ellipse cx="757.4" cy="296.0" rx="4.5" ry="2.1" fill="#fffbe8" opacity="0.45" filter="url(#blur1)"/>
<ellipse cx="755.4" cy="293.5" rx="3.2" ry="1.9" fill="#fffbe8" opacity="0.45" filter="url(#blur1)"/>
<ellipse cx="746.6" cy="283.8" rx="4.2" ry="2.2" fill="#fffbe8" opacity="0.45" filter="url(#blur1)"/>
</g>
<path d="M502.5,335.8 L779,335.8 Q789.8,335.8 789.8,346 L789.8,359.5 L502.5,359.5 Z" fill="#eef1e0"/>
<rect x="502.5" y="335.8" width="250" height="4" fill="#f3f1ea"/>
<rect x="508.4" y="339.6" width="243" height="7.3" fill="#ad7a66"/>
<line x1="508.4" y1="336.2" x2="508.4" y2="339.7" stroke="#8c7f7a" stroke-width="0.5"/>
<line x1="510.0" y1="336.2" x2="510.0" y2="337.8" stroke="#8c7f7a" stroke-width="0.5"/>
<line x1="511.5" y1="336.2" x2="511.5" y2="337.8" stroke="#8c7f7a" stroke-width="0.5"/>
<line x1="513.1" y1="336.2" x2="513.1" y2="337.8" stroke="#8c7f7a" stroke-width="0.5"/>
<line x1="514.6" y1="336.2" x2="514.6" y2="337.8" stroke="#8c7f7a" stroke-width="0.5"/>
<line x1="516.2" y1="336.2" x2="516.2" y2="338.7" stroke="#8c7f7a" stroke-width="0.5"/>
<line x1="517.8" y1="336.2" x2="517.8" y2="337.8" stroke="#8c7f7a" stroke-width="0.5"/>
<line x1="519.3" y1="336.2" x2="519.3" y2="337.8" stroke="#8c7f7a" stroke-width="0.5"/>
<line x1="520.9" y1="336.2" x2="520.9" y2="337.8" stroke="#8c7f7a" stroke-width="0.5"/>
<line x1="522.4" y1="336.2" x2="522.4" y2="337.8" stroke="#8c7f7a" stroke-width="0.5"/>
<line x1="524.0" y1="336.2" x2="524.0" y2="339.7" stroke="#8c7f7a" stroke-width="0.5"/>
<line x1="525.5" y1="336.2" x2="525.5" y2="337.8" stroke="#8c7f7a" stroke-width="0.5"/>
<line x1="527.0" y1="336.2" x2="527.0" y2="337.8" stroke="#8c7f7a" stroke-width="0.5"/>
<line x1="528.6" y1="336.2" x2="528.6" y2="337.8" stroke="#8c7f7a" stroke-width="0.5"/>
<line x1="530.1" y1="336.2" x2="530.1" y2="337.8" stroke="#8c7f7a" stroke-width="0.5"/>
<line x1="531.6" y1="336.2" x2="531.6" y2="338.7" stroke="#8c7f7a" stroke-width="0.5"/>
<line x1="533.1" y1="336.2" x2="533.1" y2="337.8" stroke="#8c7f7a" stroke-width="0.5"/>
<line x1="534.6" y1="336.2" x2="534.6" y2="337.8" stroke="#8c7f7a" stroke-width="0.5"/>
<line x1="536.2" y1="336.2" x2="536.2" y2="337.8" stroke="#8c7f7a" stroke-width="0.5"/>
<line x1="537.7" y1="336.2" x2="537.7" y2="337.8" stroke="#8c7f7a" stroke-width="0.5"/>
<line x1="539.2" y1="336.2" x2="539.2" y2="339.7" stroke="#8c7f7a" stroke-width="0.5"/>
<line x1="540.8" y1="336.2" x2="540.8" y2="337.8" stroke="#8c7f7a" stroke-width="0.5"/>
<line x1="542.4" y1="336.2" x2="542.4" y2="337.8" stroke="#8c7f7a" stroke-width="0.5"/>
<line x1="543.9" y1="336.2" x2="543.9" y2="337.8" stroke="#8c7f7a" stroke-width="0.5"/>
<line x1="545.5" y1="336.2" x2="545.5" y2="337.8" stroke="#8c7f7a" stroke-width="0.5"/>
<line x1="547.1" y1="336.2" x2="547.1" y2="338.7" stroke="#8c7f7a" stroke-width="0.5"/>
<line x1="548.7" y1="336.2" x2="548.7" y2="337.8" stroke="#8c7f7a" stroke-width="0.5"/>
<line x1="550.3" y1="336.2" x2="550.3" y2="337.8" stroke="#8c7f7a" stroke-width="0.5"/>
<line x1="551.8" y1="336.2" x2="551.8" y2="337.8" stroke="#8c7f7a" stroke-width="0.5"/>
<line x1="553.4" y1="336.2" x2="553.4" y2="337.8" stroke="#8c7f7a" stroke-width="0.5"/>
<line x1="555.0" y1="336.2" x2="555.0" y2="339.7" stroke="#8c7f7a" stroke-width="0.5"/>
<line x1="556.5" y1="336.2" x2="556.5" y2="337.8" stroke="#8c7f7a" stroke-width="0.5"/>
<line x1="558.0" y1="336.2" x2="558.0" y2="337.8" stroke="#8c7f7a" stroke-width="0.5"/>
<line x1="559.6" y1="336.2" x2="559.6" y2="337.8" stroke="#8c7f7a" stroke-width="0.5"/>
<line x1="561.1" y1="336.2" x2="561.1" y2="337.8" stroke="#8c7f7a" stroke-width="0.5"/>
<line x1="562.6" y1="336.2" x2="562.6" y2="338.7" stroke="#8c7f7a" stroke-width="0.5"/>
<line x1="564.1" y1="336.2" x2="564.1" y2="337.8" stroke="#8c7f7a" stroke-width="0.5"/>
<line x1="565.6" y1="336.2" x2="565.6" y2="337.8" stroke="#8c7f7a" stroke-width="0.5"/>
<line x1="567.2" y1="336.2" x2="567.2" y2="337.8" stroke="#8c7f7a" stroke-width="0.5"/>
<line x1="568.7" y1="336.2" x2="568.7" y2="337.8" stroke="#8c7f7a" stroke-width="0.5"/>
<line x1="570.2" y1="336.2" x2="570.2" y2="339.7" stroke="#8c7f7a" stroke-width="0.5"/>
<line x1="571.7" y1="336.2" x2="571.7" y2="337.8" stroke="#8c7f7a" stroke-width="0.5"/>
<line x1="573.2" y1="336.2" x2="573.2" y2="337.8" stroke="#8c7f7a" stroke-width="0.5"/>
<line x1="574.6" y1="336.2" x2="574.6" y2="337.8" stroke="#8c7f7a" stroke-width="0.5"/>
<line x1="576.1" y1="336.2" x2="576.1" y2="337.8" stroke="#8c7f7a" stroke-width="0.5"/>
<line x1="577.6" y1="336.2" x2="577.6" y2="338.7" stroke="#8c7f7a" stroke-width="0.5"/>
<line x1="579.1" y1="336.2" x2="579.1" y2="337.8" stroke="#8c7f7a" stroke-width="0.5"/>
<line x1="580.6" y1="336.2" x2="580.6" y2="337.8" stroke="#8c7f7a" stroke-width="0.5"/>
<line x1="582.0" y1="336.2" x2="582.0" y2="337.8" stroke="#8c7f7a" stroke-width="0.5"/>
<line x1="583.5" y1="336.2" x2="583.5" y2="337.8" stroke="#8c7f7a" stroke-width="0.5"/>
<line x1="585.0" y1="336.2" x2="585.0" y2="339.7" stroke="#8c7f7a" stroke-width="0.5"/>
<line x1="586.6" y1="336.2" x2="586.6" y2="337.8" stroke="#8c7f7a" stroke-width="0.5"/>
<line x1="588.2" y1="336.2" x2="588.2" y2="337.8" stroke="#8c7f7a" stroke-width="0.5"/>
<line x1="589.8" y1="336.2" x2="589.8" y2="337.8" stroke="#8c7f7a" stroke-width="0.5"/>
<line x1="591.4" y1="336.2" x2="591.4" y2="337.8" stroke="#8c7f7a" stroke-width="0.5"/>
<line x1="593.0" y1="336.2" x2="593.0" y2="338.7" stroke="#8c7f7a" stroke-width="0.5"/>
<line x1="594.6" y1="336.2" x2="594.6" y2="337.8" stroke="#8c7f7a" stroke-width="0.5"/>
<line x1="596.2" y1="336.2" x2="596.2" y2="337.8" stroke="#8c7f7a" stroke-width="0.5"/>
<line x1="597.8" y1="336.2" x2="597.8" y2="337.8" stroke="#8c7f7a" stroke-width="0.5"/>
<line x1="599.4" y1="336.2" x2="599.4" y2="337.8" stroke="#8c7f7a" stroke-width="0.5"/>
<line x1="601.0" y1="336.2" x2="601.0" y2="339.7" stroke="#8c7f7a" stroke-width="0.5"/>
<line x1="602.6" y1="336.2" x2="602.6" y2="337.8" stroke="#8c7f7a" stroke-width="0.5"/>
<line x1="604.2" y1="336.2" x2="604.2" y2="337.8" stroke="#8c7f7a" stroke-width="0.5"/>
<line x1="605.7" y1="336.2" x2="605.7" y2="337.8" stroke="#8c7f7a" stroke-width="0.5"/>
<line x1="607.3" y1="336.2" x2="607.3" y2="337.8" stroke="#8c7f7a" stroke-width="0.5"/>
<line x1="608.9" y1="336.2" x2="608.9" y2="338.7" stroke="#8c7f7a" stroke-width="0.5"/>
<line x1="610.5" y1="336.2" x2="610.5" y2="337.8" stroke="#8c7f7a" stroke-width="0.5"/>
<line x1="612.1" y1="336.2" x2="612.1" y2="337.8" stroke="#8c7f7a" stroke-width="0.5"/>
<line x1="613.6" y1="336.2" x2="613.6" y2="337.8" stroke="#8c7f7a" stroke-width="0.5"/>
<line x1="615.2" y1="336.2" x2="615.2" y2="337.8" stroke="#8c7f7a" stroke-width="0.5"/>
<line x1="616.8" y1="336.2" x2="616.8" y2="339.7" stroke="#8c7f7a" stroke-width="0.5"/>
<line x1="618.4" y1="336.2" x2="618.4" y2="337.8" stroke="#8c7f7a" stroke-width="0.5"/>
<line x1="620.1" y1="336.2" x2="620.1" y2="337.8" stroke="#8c7f7a" stroke-width="0.5"/>
<line x1="621.7" y1="336.2" x2="621.7" y2="337.8" stroke="#8c7f7a" stroke-width="0.5"/>
<line x1="623.3" y1="336.2" x2="623.3" y2="337.8" stroke="#8c7f7a" stroke-width="0.5"/>
<line x1="625.0" y1="336.2" x2="625.0" y2="338.7" stroke="#8c7f7a" stroke-width="0.5"/>
<line x1="626.6" y1="336.2" x2="626.6" y2="337.8" stroke="#8c7f7a" stroke-width="0.5"/>
<line x1="628.2" y1="336.2" x2="628.2" y2="337.8" stroke="#8c7f7a" stroke-width="0.5"/>
<line x1="629.8" y1="336.2" x2="629.8" y2="337.8" stroke="#8c7f7a" stroke-width="0.5"/>
<line x1="631.5" y1="336.2" x2="631.5" y2="337.8" stroke="#8c7f7a" stroke-width="0.5"/>
<line x1="633.1" y1="336.2" x2="633.1" y2="339.7" stroke="#8c7f7a" stroke-width="0.5"/>
<line x1="634.6" y1="336.2" x2="634.6" y2="337.8" stroke="#8c7f7a" stroke-width="0.5"/>
<line x1="636.2" y1="336.2" x2="636.2" y2="337.8" stroke="#8c7f7a" stroke-width="0.5"/>
<line x1="637.7" y1="336.2" x2="637.7" y2="337.8" stroke="#8c7f7a" stroke-width="0.5"/>
<line x1="639.3" y1="336.2" x2="639.3" y2="337.8" stroke="#8c7f7a" stroke-width="0.5"/>
<line x1="640.8" y1="336.2" x2="640.8" y2="338.7" stroke="#8c7f7a" stroke-width="0.5"/>
<line x1="642.3" y1="336.2" x2="642.3" y2="337.8" stroke="#8c7f7a" stroke-width="0.5"/>
<line x1="643.9" y1="336.2" x2="643.9" y2="337.8" stroke="#8c7f7a" stroke-width="0.5"/>
<line x1="645.4" y1="336.2" x2="645.4" y2="337.8" stroke="#8c7f7a" stroke-width="0.5"/>
<line x1="647.0" y1="336.2" x2="647.0" y2="337.8" stroke="#8c7f7a" stroke-width="0.5"/>
<line x1="648.5" y1="336.2" x2="648.5" y2="339.7" stroke="#8c7f7a" stroke-width="0.5"/>
<line x1="650.0" y1="336.2" x2="650.0" y2="337.8" stroke="#8c7f7a" stroke-width="0.5"/>
<line x1="651.6" y1="336.2" x2="651.6" y2="337.8" stroke="#8c7f7a" stroke-width="0.5"/>
<line x1="653.1" y1="336.2" x2="653.1" y2="337.8" stroke="#8c7f7a" stroke-width="0.5"/>
<line x1="654.7" y1="336.2" x2="654.7" y2="337.8" stroke="#8c7f7a" stroke-width="0.5"/>
<line x1="656.2" y1="336.2" x2="656.2" y2="338.7" stroke="#8c7f7a" stroke-width="0.5"/>
<line x1="657.7" y1="336.2" x2="657.7" y2="337.8" stroke="#8c7f7a" stroke-width="0.5"/>
<line x1="659.3" y1="336.2" x2="659.3" y2="337.8" stroke="#8c7f7a" stroke-width="0.5"/>
<line x1="660.8" y1="336.2" x2="660.8" y2="337.8" stroke="#8c7f7a" stroke-width="0.5"/>
<line x1="662.4" y1="336.2" x2="662.4" y2="337.8" stroke="#8c7f7a" stroke-width="0.5"/>
<line x1="663.9" y1="336.2" x2="663.9" y2="339.7" stroke="#8c7f7a" stroke-width="0.5"/>
<line x1="665.7" y1="336.2" x2="665.7" y2="337.8" stroke="#8c7f7a" stroke-width="0.5"/>
<line x1="667.5" y1="336.2" x2="667.5" y2="337.8" stroke="#8c7f7a" stroke-width="0.5"/>
<line x1="669.2" y1="336.2" x2="669.2" y2="337.8" stroke="#8c7f7a" stroke-width="0.5"/>
<line x1="671.0" y1="336.2" x2="671.0" y2="337.8" stroke="#8c7f7a" stroke-width="0.5"/>
<line x1="672.8" y1="336.2" x2="672.8" y2="338.7" stroke="#8c7f7a" stroke-width="0.5"/>
<line x1="674.6" y1="336.2" x2="674.6" y2="337.8" stroke="#8c7f7a" stroke-width="0.5"/>
<line x1="676.4" y1="336.2" x2="676.4" y2="337.8" stroke="#8c7f7a" stroke-width="0.5"/>
<line x1="678.1" y1="336.2" x2="678.1" y2="337.8" stroke="#8c7f7a" stroke-width="0.5"/>
<line x1="679.9" y1="336.2" x2="679.9" y2="337.8" stroke="#8c7f7a" stroke-width="0.5"/>
<line x1="681.7" y1="336.2" x2="681.7" y2="339.7" stroke="#8c7f7a" stroke-width="0.5"/>
<line x1="683.3" y1="336.2" x2="683.3" y2="337.8" stroke="#8c7f7a" stroke-width="0.5"/>
<line x1="684.9" y1="336.2" x2="684.9" y2="337.8" stroke="#8c7f7a" stroke-width="0.5"/>
<line x1="686.5" y1="336.2" x2="686.5" y2="337.8" stroke="#8c7f7a" stroke-width="0.5"/>
<line x1="688.1" y1="336.2" x2="688.1" y2="337.8" stroke="#8c7f7a" stroke-width="0.5"/>
<line x1="689.7" y1="336.2" x2="689.7" y2="338.7" stroke="#8c7f7a" stroke-width="0.5"/>
<line x1="691.3" y1="336.2" x2="691.3" y2="337.8" stroke="#8c7f7a" stroke-width="0.5"/>
<line x1="692.9" y1="336.2" x2="692.9" y2="337.8" stroke="#8c7f7a" stroke-width="0.5"/>
<line x1="694.5" y1="336.2" x2="694.5" y2="337.8" stroke="#8c7f7a" stroke-width="0.5"/>
<line x1="696.1" y1="336.2" x2="696.1" y2="337.8" stroke="#8c7f7a" stroke-width="0.5"/>
<line x1="697.7" y1="336.2" x2="697.7" y2="339.7" stroke="#8c7f7a" stroke-width="0.5"/>
<line x1="699.3" y1="336.2" x2="699.3" y2="337.8" stroke="#8c7f7a" stroke-width="0.5"/>
<line x1="700.9" y1="336.2" x2="700.9" y2="337.8" stroke="#8c7f7a" stroke-width="0.5"/>
<line x1="702.5" y1="336.2" x2="702.5" y2="337.8" stroke="#8c7f7a" stroke-width="0.5"/>
<line x1="704.1" y1="336.2" x2="704.1" y2="337.8" stroke="#8c7f7a" stroke-width="0.5"/>
<line x1="705.7" y1="336.2" x2="705.7" y2="338.7" stroke="#8c7f7a" stroke-width="0.5"/>
<line x1="707.3" y1="336.2" x2="707.3" y2="337.8" stroke="#8c7f7a" stroke-width="0.5"/>
<line x1="708.9" y1="336.2" x2="708.9" y2="337.8" stroke="#8c7f7a" stroke-width="0.5"/>
<line x1="710.5" y1="336.2" x2="710.5" y2="337.8" stroke="#8c7f7a" stroke-width="0.5"/>
<line x1="712.1" y1="336.2" x2="712.1" y2="337.8" stroke="#8c7f7a" stroke-width="0.5"/>
<line x1="713.7" y1="336.2" x2="713.7" y2="339.7" stroke="#8c7f7a" stroke-width="0.5"/>
<line x1="715.4" y1="336.2" x2="715.4" y2="337.8" stroke="#8c7f7a" stroke-width="0.5"/>
<line x1="717.1" y1="336.2" x2="717.1" y2="337.8" stroke="#8c7f7a" stroke-width="0.5"/>
<line x1="718.8" y1="336.2" x2="718.8" y2="337.8" stroke="#8c7f7a" stroke-width="0.5"/>
<line x1="720.5" y1="336.2" x2="720.5" y2="337.8" stroke="#8c7f7a" stroke-width="0.5"/>
<line x1="722.2" y1="336.2" x2="722.2" y2="338.7" stroke="#8c7f7a" stroke-width="0.5"/>
<line x1="724.0" y1="336.2" x2="724.0" y2="337.8" stroke="#8c7f7a" stroke-width="0.5"/>
<line x1="725.7" y1="336.2" x2="725.7" y2="337.8" stroke="#8c7f7a" stroke-width="0.5"/>
<line x1="727.4" y1="336.2" x2="727.4" y2="337.8" stroke="#8c7f7a" stroke-width="0.5"/>
<line x1="729.1" y1="336.2" x2="729.1" y2="337.8" stroke="#8c7f7a" stroke-width="0.5"/>
<line x1="730.8" y1="336.2" x2="730.8" y2="339.7" stroke="#8c7f7a" stroke-width="0.5"/>
<line x1="732.4" y1="336.2" x2="732.4" y2="337.8" stroke="#8c7f7a" stroke-width="0.5"/>
<line x1="734.0" y1="336.2" x2="734.0" y2="337.8" stroke="#8c7f7a" stroke-width="0.5"/>
<line x1="735.6" y1="336.2" x2="735.6" y2="337.8" stroke="#8c7f7a" stroke-width="0.5"/>
<line x1="737.2" y1="336.2" x2="737.2" y2="337.8" stroke="#8c7f7a" stroke-width="0.5"/>
<line x1="738.8" y1="336.2" x2="738.8" y2="338.7" stroke="#8c7f7a" stroke-width="0.5"/>
<line x1="740.4" y1="336.2" x2="740.4" y2="337.8" stroke="#8c7f7a" stroke-width="0.5"/>
<line x1="742.0" y1="336.2" x2="742.0" y2="337.8" stroke="#8c7f7a" stroke-width="0.5"/>
<line x1="743.6" y1="336.2" x2="743.6" y2="337.8" stroke="#8c7f7a" stroke-width="0.5"/>
<line x1="745.2" y1="336.2" x2="745.2" y2="337.8" stroke="#8c7f7a" stroke-width="0.5"/>
<line x1="746.8" y1="336.2" x2="746.8" y2="339.7" stroke="#8c7f7a" stroke-width="0.5"/>
<text x="524.0" y="346" font-size="6" text-anchor="middle" fill="#3a2424" font-weight="normal">1</text>
<text x="539.2" y="346" font-size="6" text-anchor="middle" fill="#3a2424" font-weight="normal">2</text>
<text x="555.0" y="346" font-size="6" text-anchor="middle" fill="#3a2424" font-weight="normal">3</text>
<text x="570.2" y="346" font-size="6" text-anchor="middle" fill="#3a2424" font-weight="normal">4</text>
<text x="585.0" y="346" font-size="7" text-anchor="middle" fill="#3a2424" font-weight="bold">5</text>
<text x="601.0" y="346" font-size="6" text-anchor="middle" fill="#3a2424" font-weight="normal">6</text>
<text x="616.8" y="346" font-size="6" text-anchor="middle" fill="#3a2424" font-weight="normal">7</text>
<text x="633.1" y="346" font-size="6" text-anchor="middle" fill="#3a2424" font-weight="normal">8</text>
<text x="648.5" y="346" font-size="6" text-anchor="middle" fill="#3a2424" font-weight="normal">9</text>
<text x="663.9" y="346" font-size="7" text-anchor="middle" fill="#3a2424" font-weight="bold">10</text>
<text x="681.7" y="346" font-size="6" text-anchor="middle" fill="#3a2424" font-weight="normal">11</text>
<text x="697.7" y="346" font-size="6" text-anchor="middle" fill="#3a2424" font-weight="normal">12</text>
<text x="713.7" y="346" font-size="6" text-anchor="middle" fill="#3a2424" font-weight="normal">13</text>
<text x="730.8" y="346" font-size="6" text-anchor="middle" fill="#3a2424" font-weight="normal">14</text>
<text x="746.8" y="346" font-size="7" text-anchor="middle" fill="#3a2424" font-weight="bold">15</text>
<path d="M759.5,359.5 C759,354 762,351.5 766,352.5 C768,350.5 772,350.5 774,352.5 C778,351.5 781,354 780.5,359.5 Z" fill="#4a5c9c"/>
<line x1="475.00" y1="445.60" x2="475.00" y2="547.90" stroke="#222" stroke-width="1.3" />
<line x1="474.40" y1="547.20" x2="628.00" y2="547.20" stroke="#222" stroke-width="1.3" />
<line x1="471.50" y1="547.20" x2="475.00" y2="547.20" stroke="#222" stroke-width="1.2" />
<text x="471.0" y="550.0" font-size="7.7" font-weight="bold" text-anchor="end" fill="#222" >0</text>
<line x1="471.50" y1="513.50" x2="475.00" y2="513.50" stroke="#222" stroke-width="1.2" />
<text x="471.0" y="516.3" font-size="7.7" font-weight="bold" text-anchor="end" fill="#222" >5</text>
<line x1="471.50" y1="479.80" x2="475.00" y2="479.80" stroke="#222" stroke-width="1.2" />
<text x="471.0" y="482.6" font-size="7.7" font-weight="bold" text-anchor="end" fill="#222" >10</text>
<line x1="471.50" y1="446.10" x2="475.00" y2="446.10" stroke="#222" stroke-width="1.2" />
<text x="471.0" y="448.9" font-size="7.7" font-weight="bold" text-anchor="end" fill="#222" >15</text>
<text transform="translate(459.3,535.6) rotate(-90)" font-size="9.7" font-weight="bold" fill="#111">Tumor weight (g)</text>
<line x1="503.30" y1="464.64" x2="503.30" y2="484.52" stroke="#333" stroke-width="1.3" />
<line x1="498.00" y1="464.64" x2="508.60" y2="464.64" stroke="#333" stroke-width="1.4" />
<rect x="492.5" y="484.5" width="21.6" height="62.7" fill="url(#xhatch)" stroke="#222" stroke-width="1.3"/>
<line x1="503.30" y1="547.20" x2="503.30" y2="550.70" stroke="#222" stroke-width="1.2" />
<text transform="translate(505.8,556.7) rotate(-45)" font-size="8.4" font-weight="bold" text-anchor="end" fill="#111">Control</text>
<line x1="535.70" y1="506.09" x2="535.70" y2="515.52" stroke="#333" stroke-width="1.3" />
<line x1="530.40" y1="506.09" x2="541.00" y2="506.09" stroke="#333" stroke-width="1.4" />
<rect x="524.9" y="515.5" width="21.6" height="31.7" fill="url(#vstripe)" stroke="#222" stroke-width="1.3"/>
<line x1="535.70" y1="547.20" x2="535.70" y2="550.70" stroke="#222" stroke-width="1.2" />
<text transform="translate(538.2,556.7) rotate(-45)" font-size="8.4" font-weight="bold" text-anchor="end" fill="#111">IR+Fuzi</text>
<line x1="568.20" y1="487.55" x2="568.20" y2="495.30" stroke="#333" stroke-width="1.3" />
<line x1="562.90" y1="487.55" x2="573.50" y2="487.55" stroke="#333" stroke-width="1.4" />
<rect x="557.4" y="495.3" width="21.6" height="51.9" fill="url(#hstripe)" stroke="#222" stroke-width="1.3"/>
<line x1="568.20" y1="547.20" x2="568.20" y2="550.70" stroke="#222" stroke-width="1.2" />
<text transform="translate(570.7,556.7) rotate(-45)" font-size="8.4" font-weight="bold" text-anchor="end" fill="#111">Fuzi</text>
<line x1="601.20" y1="491.93" x2="601.20" y2="501.37" stroke="#333" stroke-width="1.3" />
<line x1="595.90" y1="491.93" x2="606.50" y2="491.93" stroke="#333" stroke-width="1.4" />
<rect x="590.4" y="501.4" width="21.6" height="45.8" fill="url(#checker)" stroke="#222" stroke-width="1.3"/>
<line x1="601.20" y1="547.20" x2="601.20" y2="550.70" stroke="#222" stroke-width="1.2" />
<text transform="translate(603.7,556.7) rotate(-45)" font-size="8.4" font-weight="bold" text-anchor="end" fill="#111">IR</text>
<line x1="503.30" y1="435.00" x2="503.30" y2="464.64" stroke="#333" stroke-width="1.3" />
<line x1="503.30" y1="439.80" x2="596.80" y2="439.80" stroke="#333" stroke-width="1.3" />
<line x1="596.80" y1="434.80" x2="596.80" y2="444.80" stroke="#333" stroke-width="1.3" />
<text x="550.9" y="439.6" font-size="9" font-weight="bold" text-anchor="middle" fill="#222" >*</text>
<line x1="503.30" y1="449.80" x2="571.20" y2="449.80" stroke="#333" stroke-width="1.3" />
<line x1="571.20" y1="444.80" x2="571.20" y2="454.80" stroke="#333" stroke-width="1.3" />
<text x="535.8" y="451.2" font-size="9" font-weight="bold" text-anchor="middle" fill="#222" >*</text>
<line x1="503.30" y1="459.50" x2="536.30" y2="459.50" stroke="#333" stroke-width="1.3" />
<line x1="536.30" y1="454.50" x2="536.30" y2="464.50" stroke="#333" stroke-width="1.3" />
<text x="520.7" y="460.5" font-size="9" font-weight="bold" text-anchor="middle" fill="#222" >*</text>
<line x1="537.40" y1="477.50" x2="599.80" y2="477.50" stroke="#333" stroke-width="1.3" />
<line x1="599.80" y1="472.50" x2="599.80" y2="482.50" stroke="#333" stroke-width="1.3" />
<line x1="537.40" y1="472.50" x2="537.40" y2="482.50" stroke="#333" stroke-width="1.3" />
<text x="569.5" y="479.8" font-size="9" font-weight="bold" text-anchor="middle" fill="#222" >*</text>
<line x1="658.00" y1="445.80" x2="658.00" y2="548.40" stroke="#222" stroke-width="1.3" />
<line x1="657.40" y1="547.70" x2="813.00" y2="547.70" stroke="#222" stroke-width="1.3" />
<line x1="654.50" y1="547.70" x2="658.00" y2="547.70" stroke="#222" stroke-width="1.2" />
<text x="654.0" y="550.5" font-size="7.7" font-weight="bold" text-anchor="end" fill="#222" >0</text>
<line x1="654.50" y1="513.90" x2="658.00" y2="513.90" stroke="#222" stroke-width="1.2" />
<text x="654.0" y="516.7" font-size="7.7" font-weight="bold" text-anchor="end" fill="#222" >20</text>
<line x1="654.50" y1="480.10" x2="658.00" y2="480.10" stroke="#222" stroke-width="1.2" />
<text x="654.0" y="482.9" font-size="7.7" font-weight="bold" text-anchor="end" fill="#222" >40</text>
<line x1="654.50" y1="446.30" x2="658.00" y2="446.30" stroke="#222" stroke-width="1.2" />
<text x="654.0" y="449.1" font-size="7.7" font-weight="bold" text-anchor="end" fill="#222" >60</text>
<text transform="translate(641.2,555.1) rotate(-90)" font-size="10" font-weight="bold" fill="#111">Tumor inhibitory rate (%)</text>
<line x1="685.40" y1="547.70" x2="685.40" y2="551.20" stroke="#222" stroke-width="1.2" />
<text transform="translate(687.9,557.2) rotate(-45)" font-size="8.4" font-weight="bold" text-anchor="end" fill="#111">Control</text>
<rect x="707.3" y="501.1" width="22.2" height="46.6" fill="url(#checker)" stroke="#222" stroke-width="1.3"/>
<line x1="718.30" y1="547.70" x2="718.30" y2="551.20" stroke="#222" stroke-width="1.2" />
<text transform="translate(720.8,557.2) rotate(-45)" font-size="8.4" font-weight="bold" text-anchor="end" fill="#111">IR</text>
<rect x="740.2" y="518.3" width="22.2" height="29.4" fill="url(#hstripe2)" stroke="#222" stroke-width="1.3"/>
<line x1="751.20" y1="547.70" x2="751.20" y2="551.20" stroke="#222" stroke-width="1.2" />
<text transform="translate(753.7,557.2) rotate(-45)" font-size="8.4" font-weight="bold" text-anchor="end" fill="#111">Fuzi</text>
<rect x="773.0" y="463.5" width="22.2" height="84.2" fill="url(#vstripe2)" stroke="#222" stroke-width="1.3"/>
<line x1="784.00" y1="547.70" x2="784.00" y2="551.20" stroke="#222" stroke-width="1.2" />
<text transform="translate(786.5,557.2) rotate(-45)" font-size="8.4" font-weight="bold" text-anchor="end" fill="#111">IR+Fuzi</text>
</svg></body></html>
